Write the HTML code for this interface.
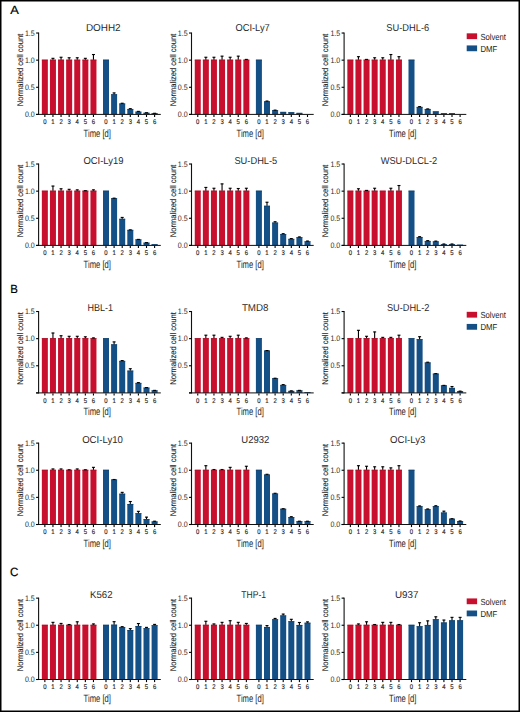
<!DOCTYPE html>
<html><head><meta charset="utf-8"><style>
html,body{margin:0;padding:0;background:#fff;}
svg{display:block;font-family:"Liberation Sans", sans-serif;text-rendering:geometricPrecision;}
</style></head><body>
<svg width="520" height="712" viewBox="0 0 520 712">
<rect x="0" y="0" width="520" height="712" fill="#fff"/>
<rect x="41.85" y="59.7" width="6" height="54.7" fill="#c8102e"/>
<rect x="41.85" y="59.7" width="6" height="0.7" fill="#a60d25"/>
<rect x="49.95" y="59.7" width="6" height="54.7" fill="#c8102e"/>
<rect x="49.95" y="59.7" width="6" height="0.7" fill="#a60d25"/>
<rect x="52.4" y="58.07" width="1.1" height="1.63" fill="#000"/>
<rect x="51.45" y="57.77" width="3" height="1.1" fill="#000"/>
<rect x="58.05" y="59.7" width="6" height="54.7" fill="#c8102e"/>
<rect x="58.05" y="59.7" width="6" height="0.7" fill="#a60d25"/>
<rect x="60.5" y="56.99" width="1.1" height="2.71" fill="#000"/>
<rect x="59.55" y="56.69" width="3" height="1.1" fill="#000"/>
<rect x="66.15" y="59.7" width="6" height="54.7" fill="#c8102e"/>
<rect x="66.15" y="59.7" width="6" height="0.7" fill="#a60d25"/>
<rect x="68.6" y="57.53" width="1.1" height="2.17" fill="#000"/>
<rect x="67.65" y="57.23" width="3" height="1.1" fill="#000"/>
<rect x="74.25" y="59.7" width="6" height="54.7" fill="#c8102e"/>
<rect x="74.25" y="59.7" width="6" height="0.7" fill="#a60d25"/>
<rect x="76.7" y="57.53" width="1.1" height="2.17" fill="#000"/>
<rect x="75.75" y="57.23" width="3" height="1.1" fill="#000"/>
<rect x="82.35" y="59.7" width="6" height="54.7" fill="#c8102e"/>
<rect x="82.35" y="59.7" width="6" height="0.7" fill="#a60d25"/>
<rect x="84.8" y="58.07" width="1.1" height="1.63" fill="#000"/>
<rect x="83.85" y="57.77" width="3" height="1.1" fill="#000"/>
<rect x="90.45" y="59.7" width="6" height="54.7" fill="#c8102e"/>
<rect x="90.45" y="59.7" width="6" height="0.7" fill="#a60d25"/>
<rect x="92.9" y="54.28" width="1.1" height="5.43" fill="#000"/>
<rect x="91.95" y="53.98" width="3" height="1.1" fill="#000"/>
<rect x="103" y="59.7" width="6" height="54.7" fill="#144f85"/>
<rect x="103" y="59.7" width="6" height="0.7" fill="#0f3f69"/>
<rect x="111.1" y="94.31" width="6" height="20.09" fill="#144f85"/>
<rect x="111.1" y="94.31" width="6" height="0.7" fill="#0f3f69"/>
<rect x="113.55" y="92.68" width="1.1" height="1.63" fill="#000"/>
<rect x="112.6" y="92.38" width="3" height="1.1" fill="#000"/>
<rect x="119.2" y="103.53" width="6" height="10.87" fill="#144f85"/>
<rect x="119.2" y="103.53" width="6" height="0.7" fill="#0f3f69"/>
<rect x="121.65" y="102.99" width="1.1" height="0.54" fill="#000"/>
<rect x="120.7" y="102.69" width="3" height="1.1" fill="#000"/>
<rect x="127.3" y="108.96" width="6" height="5.44" fill="#144f85"/>
<rect x="127.3" y="108.96" width="6" height="0.7" fill="#0f3f69"/>
<rect x="129.75" y="108.42" width="1.1" height="0.54" fill="#000"/>
<rect x="128.8" y="108.12" width="3" height="1.1" fill="#000"/>
<rect x="135.4" y="111.67" width="6" height="2.73" fill="#144f85"/>
<rect x="135.4" y="111.67" width="6" height="0.7" fill="#0f3f69"/>
<rect x="137.85" y="111.13" width="1.1" height="0.54" fill="#000"/>
<rect x="136.9" y="110.83" width="3" height="1.1" fill="#000"/>
<rect x="143.5" y="112.76" width="6" height="1.64" fill="#144f85"/>
<rect x="143.5" y="112.76" width="6" height="0.7" fill="#0f3f69"/>
<rect x="145.95" y="112.49" width="1.1" height="0.27" fill="#000"/>
<rect x="145" y="112.19" width="3" height="1.1" fill="#000"/>
<rect x="151.6" y="113.3" width="6" height="1.1" fill="#144f85"/>
<rect x="151.6" y="113.3" width="6" height="0.7" fill="#0f3f69"/>
<rect x="154.05" y="113.03" width="1.1" height="0.27" fill="#000"/>
<rect x="153.1" y="112.73" width="3" height="1.1" fill="#000"/>
<rect x="38.05" y="32.53" width="1.1" height="82.38" fill="#111"/>
<rect x="36.1" y="113.9" width="124.7" height="1.0" fill="#111"/>
<rect x="36.1" y="113.85" width="2.5" height="1.1" fill="#000"/>
<text x="34.7" y="117.1" font-size="7.9" text-anchor="end" fill="#2a2a2a" font-weight="normal" textLength="9.8" lengthAdjust="spacingAndGlyphs">0.0</text>
<rect x="36.1" y="86.73" width="2.5" height="1.1" fill="#000"/>
<text x="34.7" y="89.98" font-size="7.9" text-anchor="end" fill="#2a2a2a" font-weight="normal" textLength="9.8" lengthAdjust="spacingAndGlyphs">0.5</text>
<rect x="36.1" y="59.6" width="2.5" height="1.1" fill="#000"/>
<text x="34.7" y="62.85" font-size="7.9" text-anchor="end" fill="#2a2a2a" font-weight="normal" textLength="9.8" lengthAdjust="spacingAndGlyphs">1.0</text>
<rect x="36.1" y="32.48" width="2.5" height="1.1" fill="#000"/>
<text x="34.7" y="35.73" font-size="7.9" text-anchor="end" fill="#2a2a2a" font-weight="normal" textLength="9.8" lengthAdjust="spacingAndGlyphs">1.5</text>
<rect x="44.3" y="114.9" width="1.1" height="2.1" fill="#000"/>
<text x="44.85" y="124" font-size="6.8" text-anchor="middle" fill="#222" font-weight="normal" textLength="3.3" lengthAdjust="spacingAndGlyphs" stroke="#222" stroke-width="0.15">0</text>
<rect x="52.4" y="114.9" width="1.1" height="2.1" fill="#000"/>
<text x="52.95" y="124" font-size="6.8" text-anchor="middle" fill="#222" font-weight="normal" textLength="3.3" lengthAdjust="spacingAndGlyphs" stroke="#222" stroke-width="0.15">1</text>
<rect x="60.5" y="114.9" width="1.1" height="2.1" fill="#000"/>
<text x="61.05" y="124" font-size="6.8" text-anchor="middle" fill="#222" font-weight="normal" textLength="3.3" lengthAdjust="spacingAndGlyphs" stroke="#222" stroke-width="0.15">2</text>
<rect x="68.6" y="114.9" width="1.1" height="2.1" fill="#000"/>
<text x="69.15" y="124" font-size="6.8" text-anchor="middle" fill="#222" font-weight="normal" textLength="3.3" lengthAdjust="spacingAndGlyphs" stroke="#222" stroke-width="0.15">3</text>
<rect x="76.7" y="114.9" width="1.1" height="2.1" fill="#000"/>
<text x="77.25" y="124" font-size="6.8" text-anchor="middle" fill="#222" font-weight="normal" textLength="3.3" lengthAdjust="spacingAndGlyphs" stroke="#222" stroke-width="0.15">4</text>
<rect x="84.8" y="114.9" width="1.1" height="2.1" fill="#000"/>
<text x="85.35" y="124" font-size="6.8" text-anchor="middle" fill="#222" font-weight="normal" textLength="3.3" lengthAdjust="spacingAndGlyphs" stroke="#222" stroke-width="0.15">5</text>
<rect x="92.9" y="114.9" width="1.1" height="2.1" fill="#000"/>
<text x="93.45" y="124" font-size="6.8" text-anchor="middle" fill="#222" font-weight="normal" textLength="3.3" lengthAdjust="spacingAndGlyphs" stroke="#222" stroke-width="0.15">6</text>
<rect x="105.45" y="114.9" width="1.1" height="2.1" fill="#000"/>
<text x="106" y="124" font-size="6.8" text-anchor="middle" fill="#222" font-weight="normal" textLength="3.3" lengthAdjust="spacingAndGlyphs" stroke="#222" stroke-width="0.15">0</text>
<rect x="113.55" y="114.9" width="1.1" height="2.1" fill="#000"/>
<text x="114.1" y="124" font-size="6.8" text-anchor="middle" fill="#222" font-weight="normal" textLength="3.3" lengthAdjust="spacingAndGlyphs" stroke="#222" stroke-width="0.15">1</text>
<rect x="121.65" y="114.9" width="1.1" height="2.1" fill="#000"/>
<text x="122.2" y="124" font-size="6.8" text-anchor="middle" fill="#222" font-weight="normal" textLength="3.3" lengthAdjust="spacingAndGlyphs" stroke="#222" stroke-width="0.15">2</text>
<rect x="129.75" y="114.9" width="1.1" height="2.1" fill="#000"/>
<text x="130.3" y="124" font-size="6.8" text-anchor="middle" fill="#222" font-weight="normal" textLength="3.3" lengthAdjust="spacingAndGlyphs" stroke="#222" stroke-width="0.15">3</text>
<rect x="137.85" y="114.9" width="1.1" height="2.1" fill="#000"/>
<text x="138.4" y="124" font-size="6.8" text-anchor="middle" fill="#222" font-weight="normal" textLength="3.3" lengthAdjust="spacingAndGlyphs" stroke="#222" stroke-width="0.15">4</text>
<rect x="145.95" y="114.9" width="1.1" height="2.1" fill="#000"/>
<text x="146.5" y="124" font-size="6.8" text-anchor="middle" fill="#222" font-weight="normal" textLength="3.3" lengthAdjust="spacingAndGlyphs" stroke="#222" stroke-width="0.15">5</text>
<rect x="154.05" y="114.9" width="1.1" height="2.1" fill="#000"/>
<text x="154.6" y="124" font-size="6.8" text-anchor="middle" fill="#222" font-weight="normal" textLength="3.3" lengthAdjust="spacingAndGlyphs" stroke="#222" stroke-width="0.15">6</text>
<text x="83.6" y="136.8" font-size="10.5" text-anchor="start" fill="#222" font-weight="normal" textLength="27.3" lengthAdjust="spacingAndGlyphs">Time [d]</text>
<text transform="translate(22.9 106.2) rotate(-90)" font-size="8.3" fill="#222" stroke="#222" stroke-width="0.12" textLength="72.5" lengthAdjust="spacingAndGlyphs">Normalized cell count</text>
<text x="85.9" y="31" font-size="10" text-anchor="start" fill="#2a2a2a" font-weight="normal" textLength="34.75" lengthAdjust="spacingAndGlyphs">DOHH2</text>
<rect x="194.75" y="59.7" width="6" height="54.7" fill="#c8102e"/>
<rect x="194.75" y="59.7" width="6" height="0.7" fill="#a60d25"/>
<rect x="202.85" y="59.7" width="6" height="54.7" fill="#c8102e"/>
<rect x="202.85" y="59.7" width="6" height="0.7" fill="#a60d25"/>
<rect x="205.3" y="56.99" width="1.1" height="2.71" fill="#000"/>
<rect x="204.35" y="56.69" width="3" height="1.1" fill="#000"/>
<rect x="210.95" y="59.7" width="6" height="54.7" fill="#c8102e"/>
<rect x="210.95" y="59.7" width="6" height="0.7" fill="#a60d25"/>
<rect x="213.4" y="56.99" width="1.1" height="2.71" fill="#000"/>
<rect x="212.45" y="56.69" width="3" height="1.1" fill="#000"/>
<rect x="219.05" y="59.7" width="6" height="54.7" fill="#c8102e"/>
<rect x="219.05" y="59.7" width="6" height="0.7" fill="#a60d25"/>
<rect x="221.5" y="55.9" width="1.1" height="3.8" fill="#000"/>
<rect x="220.55" y="55.6" width="3" height="1.1" fill="#000"/>
<rect x="227.15" y="59.7" width="6" height="54.7" fill="#c8102e"/>
<rect x="227.15" y="59.7" width="6" height="0.7" fill="#a60d25"/>
<rect x="229.6" y="56.99" width="1.1" height="2.71" fill="#000"/>
<rect x="228.65" y="56.69" width="3" height="1.1" fill="#000"/>
<rect x="235.25" y="59.7" width="6" height="54.7" fill="#c8102e"/>
<rect x="235.25" y="59.7" width="6" height="0.7" fill="#a60d25"/>
<rect x="237.7" y="55.9" width="1.1" height="3.8" fill="#000"/>
<rect x="236.75" y="55.6" width="3" height="1.1" fill="#000"/>
<rect x="243.35" y="59.7" width="6" height="54.7" fill="#c8102e"/>
<rect x="243.35" y="59.7" width="6" height="0.7" fill="#a60d25"/>
<rect x="245.8" y="59.16" width="1.1" height="0.54" fill="#000"/>
<rect x="244.85" y="58.86" width="3" height="1.1" fill="#000"/>
<rect x="255.9" y="59.7" width="6" height="54.7" fill="#144f85"/>
<rect x="255.9" y="59.7" width="6" height="0.7" fill="#0f3f69"/>
<rect x="264" y="101.36" width="6" height="13.04" fill="#144f85"/>
<rect x="264" y="101.36" width="6" height="0.7" fill="#0f3f69"/>
<rect x="266.45" y="100.82" width="1.1" height="0.54" fill="#000"/>
<rect x="265.5" y="100.52" width="3" height="1.1" fill="#000"/>
<rect x="272.1" y="110.15" width="6" height="4.25" fill="#144f85"/>
<rect x="272.1" y="110.15" width="6" height="0.7" fill="#0f3f69"/>
<rect x="274.55" y="109.88" width="1.1" height="0.27" fill="#000"/>
<rect x="273.6" y="109.58" width="3" height="1.1" fill="#000"/>
<rect x="280.2" y="111.89" width="6" height="2.51" fill="#144f85"/>
<rect x="280.2" y="111.89" width="6" height="0.7" fill="#0f3f69"/>
<rect x="288.3" y="112.21" width="6" height="2.19" fill="#144f85"/>
<rect x="288.3" y="112.21" width="6" height="0.7" fill="#0f3f69"/>
<rect x="296.4" y="112.87" width="6" height="1.53" fill="#144f85"/>
<rect x="296.4" y="112.87" width="6" height="0.7" fill="#0f3f69"/>
<rect x="190.95" y="32.53" width="1.1" height="82.38" fill="#111"/>
<rect x="189" y="113.9" width="124.7" height="1.0" fill="#111"/>
<rect x="189" y="113.85" width="2.5" height="1.1" fill="#000"/>
<text x="187.6" y="117.1" font-size="7.9" text-anchor="end" fill="#2a2a2a" font-weight="normal" textLength="9.8" lengthAdjust="spacingAndGlyphs">0.0</text>
<rect x="189" y="86.73" width="2.5" height="1.1" fill="#000"/>
<text x="187.6" y="89.98" font-size="7.9" text-anchor="end" fill="#2a2a2a" font-weight="normal" textLength="9.8" lengthAdjust="spacingAndGlyphs">0.5</text>
<rect x="189" y="59.6" width="2.5" height="1.1" fill="#000"/>
<text x="187.6" y="62.85" font-size="7.9" text-anchor="end" fill="#2a2a2a" font-weight="normal" textLength="9.8" lengthAdjust="spacingAndGlyphs">1.0</text>
<rect x="189" y="32.48" width="2.5" height="1.1" fill="#000"/>
<text x="187.6" y="35.73" font-size="7.9" text-anchor="end" fill="#2a2a2a" font-weight="normal" textLength="9.8" lengthAdjust="spacingAndGlyphs">1.5</text>
<rect x="197.2" y="114.9" width="1.1" height="2.1" fill="#000"/>
<text x="197.75" y="124" font-size="6.8" text-anchor="middle" fill="#222" font-weight="normal" textLength="3.3" lengthAdjust="spacingAndGlyphs" stroke="#222" stroke-width="0.15">0</text>
<rect x="205.3" y="114.9" width="1.1" height="2.1" fill="#000"/>
<text x="205.85" y="124" font-size="6.8" text-anchor="middle" fill="#222" font-weight="normal" textLength="3.3" lengthAdjust="spacingAndGlyphs" stroke="#222" stroke-width="0.15">1</text>
<rect x="213.4" y="114.9" width="1.1" height="2.1" fill="#000"/>
<text x="213.95" y="124" font-size="6.8" text-anchor="middle" fill="#222" font-weight="normal" textLength="3.3" lengthAdjust="spacingAndGlyphs" stroke="#222" stroke-width="0.15">2</text>
<rect x="221.5" y="114.9" width="1.1" height="2.1" fill="#000"/>
<text x="222.05" y="124" font-size="6.8" text-anchor="middle" fill="#222" font-weight="normal" textLength="3.3" lengthAdjust="spacingAndGlyphs" stroke="#222" stroke-width="0.15">3</text>
<rect x="229.6" y="114.9" width="1.1" height="2.1" fill="#000"/>
<text x="230.15" y="124" font-size="6.8" text-anchor="middle" fill="#222" font-weight="normal" textLength="3.3" lengthAdjust="spacingAndGlyphs" stroke="#222" stroke-width="0.15">4</text>
<rect x="237.7" y="114.9" width="1.1" height="2.1" fill="#000"/>
<text x="238.25" y="124" font-size="6.8" text-anchor="middle" fill="#222" font-weight="normal" textLength="3.3" lengthAdjust="spacingAndGlyphs" stroke="#222" stroke-width="0.15">5</text>
<rect x="245.8" y="114.9" width="1.1" height="2.1" fill="#000"/>
<text x="246.35" y="124" font-size="6.8" text-anchor="middle" fill="#222" font-weight="normal" textLength="3.3" lengthAdjust="spacingAndGlyphs" stroke="#222" stroke-width="0.15">6</text>
<rect x="258.35" y="114.9" width="1.1" height="2.1" fill="#000"/>
<text x="258.9" y="124" font-size="6.8" text-anchor="middle" fill="#222" font-weight="normal" textLength="3.3" lengthAdjust="spacingAndGlyphs" stroke="#222" stroke-width="0.15">0</text>
<rect x="266.45" y="114.9" width="1.1" height="2.1" fill="#000"/>
<text x="267" y="124" font-size="6.8" text-anchor="middle" fill="#222" font-weight="normal" textLength="3.3" lengthAdjust="spacingAndGlyphs" stroke="#222" stroke-width="0.15">1</text>
<rect x="274.55" y="114.9" width="1.1" height="2.1" fill="#000"/>
<text x="275.1" y="124" font-size="6.8" text-anchor="middle" fill="#222" font-weight="normal" textLength="3.3" lengthAdjust="spacingAndGlyphs" stroke="#222" stroke-width="0.15">2</text>
<rect x="282.65" y="114.9" width="1.1" height="2.1" fill="#000"/>
<text x="283.2" y="124" font-size="6.8" text-anchor="middle" fill="#222" font-weight="normal" textLength="3.3" lengthAdjust="spacingAndGlyphs" stroke="#222" stroke-width="0.15">3</text>
<rect x="290.75" y="114.9" width="1.1" height="2.1" fill="#000"/>
<text x="291.3" y="124" font-size="6.8" text-anchor="middle" fill="#222" font-weight="normal" textLength="3.3" lengthAdjust="spacingAndGlyphs" stroke="#222" stroke-width="0.15">4</text>
<rect x="298.85" y="114.9" width="1.1" height="2.1" fill="#000"/>
<text x="299.4" y="124" font-size="6.8" text-anchor="middle" fill="#222" font-weight="normal" textLength="3.3" lengthAdjust="spacingAndGlyphs" stroke="#222" stroke-width="0.15">5</text>
<rect x="306.95" y="114.9" width="1.1" height="2.1" fill="#000"/>
<text x="307.5" y="124" font-size="6.8" text-anchor="middle" fill="#222" font-weight="normal" textLength="3.3" lengthAdjust="spacingAndGlyphs" stroke="#222" stroke-width="0.15">6</text>
<text x="236.5" y="136.8" font-size="10.5" text-anchor="start" fill="#222" font-weight="normal" textLength="27.3" lengthAdjust="spacingAndGlyphs">Time [d]</text>
<text transform="translate(175.8 106.2) rotate(-90)" font-size="8.3" fill="#222" stroke="#222" stroke-width="0.12" textLength="72.5" lengthAdjust="spacingAndGlyphs">Normalized cell count</text>
<text x="235.4" y="31" font-size="10" text-anchor="start" fill="#2a2a2a" font-weight="normal" textLength="34.4" lengthAdjust="spacingAndGlyphs">OCI-Ly7</text>
<rect x="347.35" y="59.7" width="6" height="54.7" fill="#c8102e"/>
<rect x="347.35" y="59.7" width="6" height="0.7" fill="#a60d25"/>
<rect x="355.45" y="59.7" width="6" height="54.7" fill="#c8102e"/>
<rect x="355.45" y="59.7" width="6" height="0.7" fill="#a60d25"/>
<rect x="357.9" y="56.45" width="1.1" height="3.25" fill="#000"/>
<rect x="356.95" y="56.15" width="3" height="1.1" fill="#000"/>
<rect x="363.55" y="59.7" width="6" height="54.7" fill="#c8102e"/>
<rect x="363.55" y="59.7" width="6" height="0.7" fill="#a60d25"/>
<rect x="366" y="59.16" width="1.1" height="0.54" fill="#000"/>
<rect x="365.05" y="58.86" width="3" height="1.1" fill="#000"/>
<rect x="371.65" y="59.7" width="6" height="54.7" fill="#c8102e"/>
<rect x="371.65" y="59.7" width="6" height="0.7" fill="#a60d25"/>
<rect x="374.1" y="57.53" width="1.1" height="2.17" fill="#000"/>
<rect x="373.15" y="57.23" width="3" height="1.1" fill="#000"/>
<rect x="379.75" y="59.7" width="6" height="54.7" fill="#c8102e"/>
<rect x="379.75" y="59.7" width="6" height="0.7" fill="#a60d25"/>
<rect x="382.2" y="57.53" width="1.1" height="2.17" fill="#000"/>
<rect x="381.25" y="57.23" width="3" height="1.1" fill="#000"/>
<rect x="387.85" y="59.7" width="6" height="54.7" fill="#c8102e"/>
<rect x="387.85" y="59.7" width="6" height="0.7" fill="#a60d25"/>
<rect x="390.3" y="54.28" width="1.1" height="5.43" fill="#000"/>
<rect x="389.35" y="53.98" width="3" height="1.1" fill="#000"/>
<rect x="395.95" y="59.7" width="6" height="54.7" fill="#c8102e"/>
<rect x="395.95" y="59.7" width="6" height="0.7" fill="#a60d25"/>
<rect x="398.4" y="56.45" width="1.1" height="3.25" fill="#000"/>
<rect x="397.45" y="56.15" width="3" height="1.1" fill="#000"/>
<rect x="408.5" y="59.7" width="6" height="54.7" fill="#144f85"/>
<rect x="408.5" y="59.7" width="6" height="0.7" fill="#0f3f69"/>
<rect x="416.6" y="106.9" width="6" height="7.5" fill="#144f85"/>
<rect x="416.6" y="106.9" width="6" height="0.7" fill="#0f3f69"/>
<rect x="419.05" y="106.36" width="1.1" height="0.54" fill="#000"/>
<rect x="418.1" y="106.06" width="3" height="1.1" fill="#000"/>
<rect x="424.7" y="108.96" width="6" height="5.44" fill="#144f85"/>
<rect x="424.7" y="108.96" width="6" height="0.7" fill="#0f3f69"/>
<rect x="427.15" y="108.69" width="1.1" height="0.27" fill="#000"/>
<rect x="426.2" y="108.39" width="3" height="1.1" fill="#000"/>
<rect x="432.8" y="111.4" width="6" height="3" fill="#144f85"/>
<rect x="432.8" y="111.4" width="6" height="0.7" fill="#0f3f69"/>
<rect x="440.9" y="113.3" width="6" height="1.1" fill="#144f85"/>
<rect x="440.9" y="113.3" width="6" height="0.7" fill="#0f3f69"/>
<rect x="449" y="113.3" width="6" height="1.1" fill="#144f85"/>
<rect x="449" y="113.3" width="6" height="0.7" fill="#0f3f69"/>
<rect x="343.55" y="32.53" width="1.1" height="82.38" fill="#111"/>
<rect x="341.6" y="113.9" width="124.7" height="1.0" fill="#111"/>
<rect x="341.6" y="113.85" width="2.5" height="1.1" fill="#000"/>
<text x="340.2" y="117.1" font-size="7.9" text-anchor="end" fill="#2a2a2a" font-weight="normal" textLength="9.8" lengthAdjust="spacingAndGlyphs">0.0</text>
<rect x="341.6" y="86.73" width="2.5" height="1.1" fill="#000"/>
<text x="340.2" y="89.98" font-size="7.9" text-anchor="end" fill="#2a2a2a" font-weight="normal" textLength="9.8" lengthAdjust="spacingAndGlyphs">0.5</text>
<rect x="341.6" y="59.6" width="2.5" height="1.1" fill="#000"/>
<text x="340.2" y="62.85" font-size="7.9" text-anchor="end" fill="#2a2a2a" font-weight="normal" textLength="9.8" lengthAdjust="spacingAndGlyphs">1.0</text>
<rect x="341.6" y="32.48" width="2.5" height="1.1" fill="#000"/>
<text x="340.2" y="35.73" font-size="7.9" text-anchor="end" fill="#2a2a2a" font-weight="normal" textLength="9.8" lengthAdjust="spacingAndGlyphs">1.5</text>
<rect x="349.8" y="114.9" width="1.1" height="2.1" fill="#000"/>
<text x="350.35" y="124" font-size="6.8" text-anchor="middle" fill="#222" font-weight="normal" textLength="3.3" lengthAdjust="spacingAndGlyphs" stroke="#222" stroke-width="0.15">0</text>
<rect x="357.9" y="114.9" width="1.1" height="2.1" fill="#000"/>
<text x="358.45" y="124" font-size="6.8" text-anchor="middle" fill="#222" font-weight="normal" textLength="3.3" lengthAdjust="spacingAndGlyphs" stroke="#222" stroke-width="0.15">1</text>
<rect x="366" y="114.9" width="1.1" height="2.1" fill="#000"/>
<text x="366.55" y="124" font-size="6.8" text-anchor="middle" fill="#222" font-weight="normal" textLength="3.3" lengthAdjust="spacingAndGlyphs" stroke="#222" stroke-width="0.15">2</text>
<rect x="374.1" y="114.9" width="1.1" height="2.1" fill="#000"/>
<text x="374.65" y="124" font-size="6.8" text-anchor="middle" fill="#222" font-weight="normal" textLength="3.3" lengthAdjust="spacingAndGlyphs" stroke="#222" stroke-width="0.15">3</text>
<rect x="382.2" y="114.9" width="1.1" height="2.1" fill="#000"/>
<text x="382.75" y="124" font-size="6.8" text-anchor="middle" fill="#222" font-weight="normal" textLength="3.3" lengthAdjust="spacingAndGlyphs" stroke="#222" stroke-width="0.15">4</text>
<rect x="390.3" y="114.9" width="1.1" height="2.1" fill="#000"/>
<text x="390.85" y="124" font-size="6.8" text-anchor="middle" fill="#222" font-weight="normal" textLength="3.3" lengthAdjust="spacingAndGlyphs" stroke="#222" stroke-width="0.15">5</text>
<rect x="398.4" y="114.9" width="1.1" height="2.1" fill="#000"/>
<text x="398.95" y="124" font-size="6.8" text-anchor="middle" fill="#222" font-weight="normal" textLength="3.3" lengthAdjust="spacingAndGlyphs" stroke="#222" stroke-width="0.15">6</text>
<rect x="410.95" y="114.9" width="1.1" height="2.1" fill="#000"/>
<text x="411.5" y="124" font-size="6.8" text-anchor="middle" fill="#222" font-weight="normal" textLength="3.3" lengthAdjust="spacingAndGlyphs" stroke="#222" stroke-width="0.15">0</text>
<rect x="419.05" y="114.9" width="1.1" height="2.1" fill="#000"/>
<text x="419.6" y="124" font-size="6.8" text-anchor="middle" fill="#222" font-weight="normal" textLength="3.3" lengthAdjust="spacingAndGlyphs" stroke="#222" stroke-width="0.15">1</text>
<rect x="427.15" y="114.9" width="1.1" height="2.1" fill="#000"/>
<text x="427.7" y="124" font-size="6.8" text-anchor="middle" fill="#222" font-weight="normal" textLength="3.3" lengthAdjust="spacingAndGlyphs" stroke="#222" stroke-width="0.15">2</text>
<rect x="435.25" y="114.9" width="1.1" height="2.1" fill="#000"/>
<text x="435.8" y="124" font-size="6.8" text-anchor="middle" fill="#222" font-weight="normal" textLength="3.3" lengthAdjust="spacingAndGlyphs" stroke="#222" stroke-width="0.15">3</text>
<rect x="443.35" y="114.9" width="1.1" height="2.1" fill="#000"/>
<text x="443.9" y="124" font-size="6.8" text-anchor="middle" fill="#222" font-weight="normal" textLength="3.3" lengthAdjust="spacingAndGlyphs" stroke="#222" stroke-width="0.15">4</text>
<rect x="451.45" y="114.9" width="1.1" height="2.1" fill="#000"/>
<text x="452" y="124" font-size="6.8" text-anchor="middle" fill="#222" font-weight="normal" textLength="3.3" lengthAdjust="spacingAndGlyphs" stroke="#222" stroke-width="0.15">5</text>
<rect x="459.55" y="114.9" width="1.1" height="2.1" fill="#000"/>
<text x="460.1" y="124" font-size="6.8" text-anchor="middle" fill="#222" font-weight="normal" textLength="3.3" lengthAdjust="spacingAndGlyphs" stroke="#222" stroke-width="0.15">6</text>
<text x="389.1" y="136.8" font-size="10.5" text-anchor="start" fill="#222" font-weight="normal" textLength="27.3" lengthAdjust="spacingAndGlyphs">Time [d]</text>
<text transform="translate(328.4 106.2) rotate(-90)" font-size="8.3" fill="#222" stroke="#222" stroke-width="0.12" textLength="72.5" lengthAdjust="spacingAndGlyphs">Normalized cell count</text>
<text x="386.3" y="31" font-size="10" text-anchor="start" fill="#2a2a2a" font-weight="normal" textLength="42.9" lengthAdjust="spacingAndGlyphs">SU-DHL-6</text>
<rect x="41.85" y="190.7" width="6" height="54.7" fill="#c8102e"/>
<rect x="41.85" y="190.7" width="6" height="0.7" fill="#a60d25"/>
<rect x="49.95" y="190.7" width="6" height="54.7" fill="#c8102e"/>
<rect x="49.95" y="190.7" width="6" height="0.7" fill="#a60d25"/>
<rect x="52.4" y="185.82" width="1.1" height="4.88" fill="#000"/>
<rect x="51.45" y="185.52" width="3" height="1.1" fill="#000"/>
<rect x="58.05" y="190.7" width="6" height="54.7" fill="#c8102e"/>
<rect x="58.05" y="190.7" width="6" height="0.7" fill="#a60d25"/>
<rect x="60.5" y="188.53" width="1.1" height="2.17" fill="#000"/>
<rect x="59.55" y="188.23" width="3" height="1.1" fill="#000"/>
<rect x="66.15" y="190.7" width="6" height="54.7" fill="#c8102e"/>
<rect x="66.15" y="190.7" width="6" height="0.7" fill="#a60d25"/>
<rect x="68.6" y="189.07" width="1.1" height="1.63" fill="#000"/>
<rect x="67.65" y="188.77" width="3" height="1.1" fill="#000"/>
<rect x="74.25" y="190.7" width="6" height="54.7" fill="#c8102e"/>
<rect x="74.25" y="190.7" width="6" height="0.7" fill="#a60d25"/>
<rect x="76.7" y="189.61" width="1.1" height="1.08" fill="#000"/>
<rect x="75.75" y="189.31" width="3" height="1.1" fill="#000"/>
<rect x="82.35" y="190.7" width="6" height="54.7" fill="#c8102e"/>
<rect x="82.35" y="190.7" width="6" height="0.7" fill="#a60d25"/>
<rect x="84.8" y="190.43" width="1.1" height="0.27" fill="#000"/>
<rect x="83.85" y="190.13" width="3" height="1.1" fill="#000"/>
<rect x="90.45" y="190.7" width="6" height="54.7" fill="#c8102e"/>
<rect x="90.45" y="190.7" width="6" height="0.7" fill="#a60d25"/>
<rect x="92.9" y="189.61" width="1.1" height="1.08" fill="#000"/>
<rect x="91.95" y="189.31" width="3" height="1.1" fill="#000"/>
<rect x="103" y="190.7" width="6" height="54.7" fill="#144f85"/>
<rect x="103" y="190.7" width="6" height="0.7" fill="#0f3f69"/>
<rect x="111.1" y="198.19" width="6" height="47.21" fill="#144f85"/>
<rect x="111.1" y="198.19" width="6" height="0.7" fill="#0f3f69"/>
<rect x="113.55" y="197.92" width="1.1" height="0.27" fill="#000"/>
<rect x="112.6" y="197.62" width="3" height="1.1" fill="#000"/>
<rect x="119.2" y="218.8" width="6" height="26.6" fill="#144f85"/>
<rect x="119.2" y="218.8" width="6" height="0.7" fill="#0f3f69"/>
<rect x="121.65" y="217.17" width="1.1" height="1.63" fill="#000"/>
<rect x="120.7" y="216.87" width="3" height="1.1" fill="#000"/>
<rect x="127.3" y="229.87" width="6" height="15.53" fill="#144f85"/>
<rect x="127.3" y="229.87" width="6" height="0.7" fill="#0f3f69"/>
<rect x="129.75" y="229.6" width="1.1" height="0.27" fill="#000"/>
<rect x="128.8" y="229.3" width="3" height="1.1" fill="#000"/>
<rect x="135.4" y="239.42" width="6" height="5.98" fill="#144f85"/>
<rect x="135.4" y="239.42" width="6" height="0.7" fill="#0f3f69"/>
<rect x="137.85" y="239.15" width="1.1" height="0.27" fill="#000"/>
<rect x="136.9" y="238.85" width="3" height="1.1" fill="#000"/>
<rect x="143.5" y="242.67" width="6" height="2.73" fill="#144f85"/>
<rect x="143.5" y="242.67" width="6" height="0.7" fill="#0f3f69"/>
<rect x="145.95" y="242.4" width="1.1" height="0.27" fill="#000"/>
<rect x="145" y="242.1" width="3" height="1.1" fill="#000"/>
<rect x="151.6" y="244.3" width="6" height="1.1" fill="#144f85"/>
<rect x="151.6" y="244.3" width="6" height="0.7" fill="#0f3f69"/>
<rect x="38.05" y="163.53" width="1.1" height="82.38" fill="#111"/>
<rect x="36.1" y="244.9" width="124.7" height="1.0" fill="#111"/>
<rect x="36.1" y="244.85" width="2.5" height="1.1" fill="#000"/>
<text x="34.7" y="248.1" font-size="7.9" text-anchor="end" fill="#2a2a2a" font-weight="normal" textLength="9.8" lengthAdjust="spacingAndGlyphs">0.0</text>
<rect x="36.1" y="217.72" width="2.5" height="1.1" fill="#000"/>
<text x="34.7" y="220.97" font-size="7.9" text-anchor="end" fill="#2a2a2a" font-weight="normal" textLength="9.8" lengthAdjust="spacingAndGlyphs">0.5</text>
<rect x="36.1" y="190.6" width="2.5" height="1.1" fill="#000"/>
<text x="34.7" y="193.85" font-size="7.9" text-anchor="end" fill="#2a2a2a" font-weight="normal" textLength="9.8" lengthAdjust="spacingAndGlyphs">1.0</text>
<rect x="36.1" y="163.47" width="2.5" height="1.1" fill="#000"/>
<text x="34.7" y="166.72" font-size="7.9" text-anchor="end" fill="#2a2a2a" font-weight="normal" textLength="9.8" lengthAdjust="spacingAndGlyphs">1.5</text>
<rect x="44.3" y="245.9" width="1.1" height="2.1" fill="#000"/>
<text x="44.85" y="255" font-size="6.8" text-anchor="middle" fill="#222" font-weight="normal" textLength="3.3" lengthAdjust="spacingAndGlyphs" stroke="#222" stroke-width="0.15">0</text>
<rect x="52.4" y="245.9" width="1.1" height="2.1" fill="#000"/>
<text x="52.95" y="255" font-size="6.8" text-anchor="middle" fill="#222" font-weight="normal" textLength="3.3" lengthAdjust="spacingAndGlyphs" stroke="#222" stroke-width="0.15">1</text>
<rect x="60.5" y="245.9" width="1.1" height="2.1" fill="#000"/>
<text x="61.05" y="255" font-size="6.8" text-anchor="middle" fill="#222" font-weight="normal" textLength="3.3" lengthAdjust="spacingAndGlyphs" stroke="#222" stroke-width="0.15">2</text>
<rect x="68.6" y="245.9" width="1.1" height="2.1" fill="#000"/>
<text x="69.15" y="255" font-size="6.8" text-anchor="middle" fill="#222" font-weight="normal" textLength="3.3" lengthAdjust="spacingAndGlyphs" stroke="#222" stroke-width="0.15">3</text>
<rect x="76.7" y="245.9" width="1.1" height="2.1" fill="#000"/>
<text x="77.25" y="255" font-size="6.8" text-anchor="middle" fill="#222" font-weight="normal" textLength="3.3" lengthAdjust="spacingAndGlyphs" stroke="#222" stroke-width="0.15">4</text>
<rect x="84.8" y="245.9" width="1.1" height="2.1" fill="#000"/>
<text x="85.35" y="255" font-size="6.8" text-anchor="middle" fill="#222" font-weight="normal" textLength="3.3" lengthAdjust="spacingAndGlyphs" stroke="#222" stroke-width="0.15">5</text>
<rect x="92.9" y="245.9" width="1.1" height="2.1" fill="#000"/>
<text x="93.45" y="255" font-size="6.8" text-anchor="middle" fill="#222" font-weight="normal" textLength="3.3" lengthAdjust="spacingAndGlyphs" stroke="#222" stroke-width="0.15">6</text>
<rect x="105.45" y="245.9" width="1.1" height="2.1" fill="#000"/>
<text x="106" y="255" font-size="6.8" text-anchor="middle" fill="#222" font-weight="normal" textLength="3.3" lengthAdjust="spacingAndGlyphs" stroke="#222" stroke-width="0.15">0</text>
<rect x="113.55" y="245.9" width="1.1" height="2.1" fill="#000"/>
<text x="114.1" y="255" font-size="6.8" text-anchor="middle" fill="#222" font-weight="normal" textLength="3.3" lengthAdjust="spacingAndGlyphs" stroke="#222" stroke-width="0.15">1</text>
<rect x="121.65" y="245.9" width="1.1" height="2.1" fill="#000"/>
<text x="122.2" y="255" font-size="6.8" text-anchor="middle" fill="#222" font-weight="normal" textLength="3.3" lengthAdjust="spacingAndGlyphs" stroke="#222" stroke-width="0.15">2</text>
<rect x="129.75" y="245.9" width="1.1" height="2.1" fill="#000"/>
<text x="130.3" y="255" font-size="6.8" text-anchor="middle" fill="#222" font-weight="normal" textLength="3.3" lengthAdjust="spacingAndGlyphs" stroke="#222" stroke-width="0.15">3</text>
<rect x="137.85" y="245.9" width="1.1" height="2.1" fill="#000"/>
<text x="138.4" y="255" font-size="6.8" text-anchor="middle" fill="#222" font-weight="normal" textLength="3.3" lengthAdjust="spacingAndGlyphs" stroke="#222" stroke-width="0.15">4</text>
<rect x="145.95" y="245.9" width="1.1" height="2.1" fill="#000"/>
<text x="146.5" y="255" font-size="6.8" text-anchor="middle" fill="#222" font-weight="normal" textLength="3.3" lengthAdjust="spacingAndGlyphs" stroke="#222" stroke-width="0.15">5</text>
<rect x="154.05" y="245.9" width="1.1" height="2.1" fill="#000"/>
<text x="154.6" y="255" font-size="6.8" text-anchor="middle" fill="#222" font-weight="normal" textLength="3.3" lengthAdjust="spacingAndGlyphs" stroke="#222" stroke-width="0.15">6</text>
<text x="83.6" y="267.8" font-size="10.5" text-anchor="start" fill="#222" font-weight="normal" textLength="27.3" lengthAdjust="spacingAndGlyphs">Time [d]</text>
<text transform="translate(22.9 237.2) rotate(-90)" font-size="8.3" fill="#222" stroke="#222" stroke-width="0.12" textLength="72.5" lengthAdjust="spacingAndGlyphs">Normalized cell count</text>
<text x="83.4" y="163.8" font-size="10" text-anchor="start" fill="#2a2a2a" font-weight="normal" textLength="40.1" lengthAdjust="spacingAndGlyphs">OCI-Ly19</text>
<rect x="194.75" y="190.7" width="6" height="54.7" fill="#c8102e"/>
<rect x="194.75" y="190.7" width="6" height="0.7" fill="#a60d25"/>
<rect x="202.85" y="190.7" width="6" height="54.7" fill="#c8102e"/>
<rect x="202.85" y="190.7" width="6" height="0.7" fill="#a60d25"/>
<rect x="205.3" y="187.17" width="1.1" height="3.53" fill="#000"/>
<rect x="204.35" y="186.87" width="3" height="1.1" fill="#000"/>
<rect x="210.95" y="190.7" width="6" height="54.7" fill="#c8102e"/>
<rect x="210.95" y="190.7" width="6" height="0.7" fill="#a60d25"/>
<rect x="213.4" y="187.99" width="1.1" height="2.71" fill="#000"/>
<rect x="212.45" y="187.69" width="3" height="1.1" fill="#000"/>
<rect x="219.05" y="190.7" width="6" height="54.7" fill="#c8102e"/>
<rect x="219.05" y="190.7" width="6" height="0.7" fill="#a60d25"/>
<rect x="221.5" y="183.65" width="1.1" height="7.05" fill="#000"/>
<rect x="220.55" y="183.35" width="3" height="1.1" fill="#000"/>
<rect x="227.15" y="190.7" width="6" height="54.7" fill="#c8102e"/>
<rect x="227.15" y="190.7" width="6" height="0.7" fill="#a60d25"/>
<rect x="229.6" y="187.99" width="1.1" height="2.71" fill="#000"/>
<rect x="228.65" y="187.69" width="3" height="1.1" fill="#000"/>
<rect x="235.25" y="190.7" width="6" height="54.7" fill="#c8102e"/>
<rect x="235.25" y="190.7" width="6" height="0.7" fill="#a60d25"/>
<rect x="237.7" y="188.26" width="1.1" height="2.44" fill="#000"/>
<rect x="236.75" y="187.96" width="3" height="1.1" fill="#000"/>
<rect x="243.35" y="190.7" width="6" height="54.7" fill="#c8102e"/>
<rect x="243.35" y="190.7" width="6" height="0.7" fill="#a60d25"/>
<rect x="245.8" y="187.99" width="1.1" height="2.71" fill="#000"/>
<rect x="244.85" y="187.69" width="3" height="1.1" fill="#000"/>
<rect x="255.9" y="190.7" width="6" height="54.7" fill="#144f85"/>
<rect x="255.9" y="190.7" width="6" height="0.7" fill="#0f3f69"/>
<rect x="264" y="205.78" width="6" height="39.62" fill="#144f85"/>
<rect x="264" y="205.78" width="6" height="0.7" fill="#0f3f69"/>
<rect x="266.45" y="201.98" width="1.1" height="3.8" fill="#000"/>
<rect x="265.5" y="201.68" width="3" height="1.1" fill="#000"/>
<rect x="272.1" y="222.6" width="6" height="22.8" fill="#144f85"/>
<rect x="272.1" y="222.6" width="6" height="0.7" fill="#0f3f69"/>
<rect x="274.55" y="221.51" width="1.1" height="1.08" fill="#000"/>
<rect x="273.6" y="221.21" width="3" height="1.1" fill="#000"/>
<rect x="280.2" y="233.99" width="6" height="11.41" fill="#144f85"/>
<rect x="280.2" y="233.99" width="6" height="0.7" fill="#0f3f69"/>
<rect x="282.65" y="233.45" width="1.1" height="0.54" fill="#000"/>
<rect x="281.7" y="233.15" width="3" height="1.1" fill="#000"/>
<rect x="288.3" y="238.87" width="6" height="6.53" fill="#144f85"/>
<rect x="288.3" y="238.87" width="6" height="0.7" fill="#0f3f69"/>
<rect x="290.75" y="238.33" width="1.1" height="0.54" fill="#000"/>
<rect x="289.8" y="238.03" width="3" height="1.1" fill="#000"/>
<rect x="296.4" y="237.25" width="6" height="8.15" fill="#144f85"/>
<rect x="296.4" y="237.25" width="6" height="0.7" fill="#0f3f69"/>
<rect x="298.85" y="236.7" width="1.1" height="0.54" fill="#000"/>
<rect x="297.9" y="236.4" width="3" height="1.1" fill="#000"/>
<rect x="304.5" y="241.37" width="6" height="4.03" fill="#144f85"/>
<rect x="304.5" y="241.37" width="6" height="0.7" fill="#0f3f69"/>
<rect x="306.95" y="240.83" width="1.1" height="0.54" fill="#000"/>
<rect x="306" y="240.53" width="3" height="1.1" fill="#000"/>
<rect x="190.95" y="163.53" width="1.1" height="82.38" fill="#111"/>
<rect x="189" y="244.9" width="124.7" height="1.0" fill="#111"/>
<rect x="189" y="244.85" width="2.5" height="1.1" fill="#000"/>
<text x="187.6" y="248.1" font-size="7.9" text-anchor="end" fill="#2a2a2a" font-weight="normal" textLength="9.8" lengthAdjust="spacingAndGlyphs">0.0</text>
<rect x="189" y="217.72" width="2.5" height="1.1" fill="#000"/>
<text x="187.6" y="220.97" font-size="7.9" text-anchor="end" fill="#2a2a2a" font-weight="normal" textLength="9.8" lengthAdjust="spacingAndGlyphs">0.5</text>
<rect x="189" y="190.6" width="2.5" height="1.1" fill="#000"/>
<text x="187.6" y="193.85" font-size="7.9" text-anchor="end" fill="#2a2a2a" font-weight="normal" textLength="9.8" lengthAdjust="spacingAndGlyphs">1.0</text>
<rect x="189" y="163.47" width="2.5" height="1.1" fill="#000"/>
<text x="187.6" y="166.72" font-size="7.9" text-anchor="end" fill="#2a2a2a" font-weight="normal" textLength="9.8" lengthAdjust="spacingAndGlyphs">1.5</text>
<rect x="197.2" y="245.9" width="1.1" height="2.1" fill="#000"/>
<text x="197.75" y="255" font-size="6.8" text-anchor="middle" fill="#222" font-weight="normal" textLength="3.3" lengthAdjust="spacingAndGlyphs" stroke="#222" stroke-width="0.15">0</text>
<rect x="205.3" y="245.9" width="1.1" height="2.1" fill="#000"/>
<text x="205.85" y="255" font-size="6.8" text-anchor="middle" fill="#222" font-weight="normal" textLength="3.3" lengthAdjust="spacingAndGlyphs" stroke="#222" stroke-width="0.15">1</text>
<rect x="213.4" y="245.9" width="1.1" height="2.1" fill="#000"/>
<text x="213.95" y="255" font-size="6.8" text-anchor="middle" fill="#222" font-weight="normal" textLength="3.3" lengthAdjust="spacingAndGlyphs" stroke="#222" stroke-width="0.15">2</text>
<rect x="221.5" y="245.9" width="1.1" height="2.1" fill="#000"/>
<text x="222.05" y="255" font-size="6.8" text-anchor="middle" fill="#222" font-weight="normal" textLength="3.3" lengthAdjust="spacingAndGlyphs" stroke="#222" stroke-width="0.15">3</text>
<rect x="229.6" y="245.9" width="1.1" height="2.1" fill="#000"/>
<text x="230.15" y="255" font-size="6.8" text-anchor="middle" fill="#222" font-weight="normal" textLength="3.3" lengthAdjust="spacingAndGlyphs" stroke="#222" stroke-width="0.15">4</text>
<rect x="237.7" y="245.9" width="1.1" height="2.1" fill="#000"/>
<text x="238.25" y="255" font-size="6.8" text-anchor="middle" fill="#222" font-weight="normal" textLength="3.3" lengthAdjust="spacingAndGlyphs" stroke="#222" stroke-width="0.15">5</text>
<rect x="245.8" y="245.9" width="1.1" height="2.1" fill="#000"/>
<text x="246.35" y="255" font-size="6.8" text-anchor="middle" fill="#222" font-weight="normal" textLength="3.3" lengthAdjust="spacingAndGlyphs" stroke="#222" stroke-width="0.15">6</text>
<rect x="258.35" y="245.9" width="1.1" height="2.1" fill="#000"/>
<text x="258.9" y="255" font-size="6.8" text-anchor="middle" fill="#222" font-weight="normal" textLength="3.3" lengthAdjust="spacingAndGlyphs" stroke="#222" stroke-width="0.15">0</text>
<rect x="266.45" y="245.9" width="1.1" height="2.1" fill="#000"/>
<text x="267" y="255" font-size="6.8" text-anchor="middle" fill="#222" font-weight="normal" textLength="3.3" lengthAdjust="spacingAndGlyphs" stroke="#222" stroke-width="0.15">1</text>
<rect x="274.55" y="245.9" width="1.1" height="2.1" fill="#000"/>
<text x="275.1" y="255" font-size="6.8" text-anchor="middle" fill="#222" font-weight="normal" textLength="3.3" lengthAdjust="spacingAndGlyphs" stroke="#222" stroke-width="0.15">2</text>
<rect x="282.65" y="245.9" width="1.1" height="2.1" fill="#000"/>
<text x="283.2" y="255" font-size="6.8" text-anchor="middle" fill="#222" font-weight="normal" textLength="3.3" lengthAdjust="spacingAndGlyphs" stroke="#222" stroke-width="0.15">3</text>
<rect x="290.75" y="245.9" width="1.1" height="2.1" fill="#000"/>
<text x="291.3" y="255" font-size="6.8" text-anchor="middle" fill="#222" font-weight="normal" textLength="3.3" lengthAdjust="spacingAndGlyphs" stroke="#222" stroke-width="0.15">4</text>
<rect x="298.85" y="245.9" width="1.1" height="2.1" fill="#000"/>
<text x="299.4" y="255" font-size="6.8" text-anchor="middle" fill="#222" font-weight="normal" textLength="3.3" lengthAdjust="spacingAndGlyphs" stroke="#222" stroke-width="0.15">5</text>
<rect x="306.95" y="245.9" width="1.1" height="2.1" fill="#000"/>
<text x="307.5" y="255" font-size="6.8" text-anchor="middle" fill="#222" font-weight="normal" textLength="3.3" lengthAdjust="spacingAndGlyphs" stroke="#222" stroke-width="0.15">6</text>
<text x="236.5" y="267.8" font-size="10.5" text-anchor="start" fill="#222" font-weight="normal" textLength="27.3" lengthAdjust="spacingAndGlyphs">Time [d]</text>
<text transform="translate(175.8 237.2) rotate(-90)" font-size="8.3" fill="#222" stroke="#222" stroke-width="0.12" textLength="72.5" lengthAdjust="spacingAndGlyphs">Normalized cell count</text>
<text x="234.4" y="163.8" font-size="10" text-anchor="start" fill="#2a2a2a" font-weight="normal" textLength="42.9" lengthAdjust="spacingAndGlyphs">SU-DHL-5</text>
<rect x="347.35" y="190.7" width="6" height="54.7" fill="#c8102e"/>
<rect x="347.35" y="190.7" width="6" height="0.7" fill="#a60d25"/>
<rect x="355.45" y="190.7" width="6" height="54.7" fill="#c8102e"/>
<rect x="355.45" y="190.7" width="6" height="0.7" fill="#a60d25"/>
<rect x="357.9" y="188.53" width="1.1" height="2.17" fill="#000"/>
<rect x="356.95" y="188.23" width="3" height="1.1" fill="#000"/>
<rect x="363.55" y="190.7" width="6" height="54.7" fill="#c8102e"/>
<rect x="363.55" y="190.7" width="6" height="0.7" fill="#a60d25"/>
<rect x="366" y="190.16" width="1.1" height="0.54" fill="#000"/>
<rect x="365.05" y="189.86" width="3" height="1.1" fill="#000"/>
<rect x="371.65" y="190.7" width="6" height="54.7" fill="#c8102e"/>
<rect x="371.65" y="190.7" width="6" height="0.7" fill="#a60d25"/>
<rect x="374.1" y="187.99" width="1.1" height="2.71" fill="#000"/>
<rect x="373.15" y="187.69" width="3" height="1.1" fill="#000"/>
<rect x="379.75" y="190.7" width="6" height="54.7" fill="#c8102e"/>
<rect x="379.75" y="190.7" width="6" height="0.7" fill="#a60d25"/>
<rect x="387.85" y="190.7" width="6" height="54.7" fill="#c8102e"/>
<rect x="387.85" y="190.7" width="6" height="0.7" fill="#a60d25"/>
<rect x="390.3" y="187.99" width="1.1" height="2.71" fill="#000"/>
<rect x="389.35" y="187.69" width="3" height="1.1" fill="#000"/>
<rect x="395.95" y="190.7" width="6" height="54.7" fill="#c8102e"/>
<rect x="395.95" y="190.7" width="6" height="0.7" fill="#a60d25"/>
<rect x="398.4" y="185.27" width="1.1" height="5.43" fill="#000"/>
<rect x="397.45" y="184.97" width="3" height="1.1" fill="#000"/>
<rect x="408.5" y="190.7" width="6" height="54.7" fill="#144f85"/>
<rect x="408.5" y="190.7" width="6" height="0.7" fill="#0f3f69"/>
<rect x="416.6" y="236.98" width="6" height="8.42" fill="#144f85"/>
<rect x="416.6" y="236.98" width="6" height="0.7" fill="#0f3f69"/>
<rect x="419.05" y="236.43" width="1.1" height="0.54" fill="#000"/>
<rect x="418.1" y="236.13" width="3" height="1.1" fill="#000"/>
<rect x="424.7" y="240.94" width="6" height="4.46" fill="#144f85"/>
<rect x="424.7" y="240.94" width="6" height="0.7" fill="#0f3f69"/>
<rect x="427.15" y="240.39" width="1.1" height="0.54" fill="#000"/>
<rect x="426.2" y="240.09" width="3" height="1.1" fill="#000"/>
<rect x="432.8" y="241.42" width="6" height="3.98" fill="#144f85"/>
<rect x="432.8" y="241.42" width="6" height="0.7" fill="#0f3f69"/>
<rect x="435.25" y="240.88" width="1.1" height="0.54" fill="#000"/>
<rect x="434.3" y="240.58" width="3" height="1.1" fill="#000"/>
<rect x="440.9" y="244.3" width="6" height="1.1" fill="#144f85"/>
<rect x="440.9" y="244.3" width="6" height="0.7" fill="#0f3f69"/>
<rect x="443.35" y="243.76" width="1.1" height="0.54" fill="#000"/>
<rect x="442.4" y="243.46" width="3" height="1.1" fill="#000"/>
<rect x="449" y="244.3" width="6" height="1.1" fill="#144f85"/>
<rect x="449" y="244.3" width="6" height="0.7" fill="#0f3f69"/>
<rect x="451.45" y="243.76" width="1.1" height="0.54" fill="#000"/>
<rect x="450.5" y="243.46" width="3" height="1.1" fill="#000"/>
<rect x="457.1" y="244.73" width="6" height="0.67" fill="#144f85"/>
<rect x="457.1" y="244.73" width="6" height="0.7" fill="#0f3f69"/>
<rect x="343.55" y="163.53" width="1.1" height="82.38" fill="#111"/>
<rect x="341.6" y="244.9" width="124.7" height="1.0" fill="#111"/>
<rect x="341.6" y="244.85" width="2.5" height="1.1" fill="#000"/>
<text x="340.2" y="248.1" font-size="7.9" text-anchor="end" fill="#2a2a2a" font-weight="normal" textLength="9.8" lengthAdjust="spacingAndGlyphs">0.0</text>
<rect x="341.6" y="217.72" width="2.5" height="1.1" fill="#000"/>
<text x="340.2" y="220.97" font-size="7.9" text-anchor="end" fill="#2a2a2a" font-weight="normal" textLength="9.8" lengthAdjust="spacingAndGlyphs">0.5</text>
<rect x="341.6" y="190.6" width="2.5" height="1.1" fill="#000"/>
<text x="340.2" y="193.85" font-size="7.9" text-anchor="end" fill="#2a2a2a" font-weight="normal" textLength="9.8" lengthAdjust="spacingAndGlyphs">1.0</text>
<rect x="341.6" y="163.47" width="2.5" height="1.1" fill="#000"/>
<text x="340.2" y="166.72" font-size="7.9" text-anchor="end" fill="#2a2a2a" font-weight="normal" textLength="9.8" lengthAdjust="spacingAndGlyphs">1.5</text>
<rect x="349.8" y="245.9" width="1.1" height="2.1" fill="#000"/>
<text x="350.35" y="255" font-size="6.8" text-anchor="middle" fill="#222" font-weight="normal" textLength="3.3" lengthAdjust="spacingAndGlyphs" stroke="#222" stroke-width="0.15">0</text>
<rect x="357.9" y="245.9" width="1.1" height="2.1" fill="#000"/>
<text x="358.45" y="255" font-size="6.8" text-anchor="middle" fill="#222" font-weight="normal" textLength="3.3" lengthAdjust="spacingAndGlyphs" stroke="#222" stroke-width="0.15">1</text>
<rect x="366" y="245.9" width="1.1" height="2.1" fill="#000"/>
<text x="366.55" y="255" font-size="6.8" text-anchor="middle" fill="#222" font-weight="normal" textLength="3.3" lengthAdjust="spacingAndGlyphs" stroke="#222" stroke-width="0.15">2</text>
<rect x="374.1" y="245.9" width="1.1" height="2.1" fill="#000"/>
<text x="374.65" y="255" font-size="6.8" text-anchor="middle" fill="#222" font-weight="normal" textLength="3.3" lengthAdjust="spacingAndGlyphs" stroke="#222" stroke-width="0.15">3</text>
<rect x="382.2" y="245.9" width="1.1" height="2.1" fill="#000"/>
<text x="382.75" y="255" font-size="6.8" text-anchor="middle" fill="#222" font-weight="normal" textLength="3.3" lengthAdjust="spacingAndGlyphs" stroke="#222" stroke-width="0.15">4</text>
<rect x="390.3" y="245.9" width="1.1" height="2.1" fill="#000"/>
<text x="390.85" y="255" font-size="6.8" text-anchor="middle" fill="#222" font-weight="normal" textLength="3.3" lengthAdjust="spacingAndGlyphs" stroke="#222" stroke-width="0.15">5</text>
<rect x="398.4" y="245.9" width="1.1" height="2.1" fill="#000"/>
<text x="398.95" y="255" font-size="6.8" text-anchor="middle" fill="#222" font-weight="normal" textLength="3.3" lengthAdjust="spacingAndGlyphs" stroke="#222" stroke-width="0.15">6</text>
<rect x="410.95" y="245.9" width="1.1" height="2.1" fill="#000"/>
<text x="411.5" y="255" font-size="6.8" text-anchor="middle" fill="#222" font-weight="normal" textLength="3.3" lengthAdjust="spacingAndGlyphs" stroke="#222" stroke-width="0.15">0</text>
<rect x="419.05" y="245.9" width="1.1" height="2.1" fill="#000"/>
<text x="419.6" y="255" font-size="6.8" text-anchor="middle" fill="#222" font-weight="normal" textLength="3.3" lengthAdjust="spacingAndGlyphs" stroke="#222" stroke-width="0.15">1</text>
<rect x="427.15" y="245.9" width="1.1" height="2.1" fill="#000"/>
<text x="427.7" y="255" font-size="6.8" text-anchor="middle" fill="#222" font-weight="normal" textLength="3.3" lengthAdjust="spacingAndGlyphs" stroke="#222" stroke-width="0.15">2</text>
<rect x="435.25" y="245.9" width="1.1" height="2.1" fill="#000"/>
<text x="435.8" y="255" font-size="6.8" text-anchor="middle" fill="#222" font-weight="normal" textLength="3.3" lengthAdjust="spacingAndGlyphs" stroke="#222" stroke-width="0.15">3</text>
<rect x="443.35" y="245.9" width="1.1" height="2.1" fill="#000"/>
<text x="443.9" y="255" font-size="6.8" text-anchor="middle" fill="#222" font-weight="normal" textLength="3.3" lengthAdjust="spacingAndGlyphs" stroke="#222" stroke-width="0.15">4</text>
<rect x="451.45" y="245.9" width="1.1" height="2.1" fill="#000"/>
<text x="452" y="255" font-size="6.8" text-anchor="middle" fill="#222" font-weight="normal" textLength="3.3" lengthAdjust="spacingAndGlyphs" stroke="#222" stroke-width="0.15">5</text>
<rect x="459.55" y="245.9" width="1.1" height="2.1" fill="#000"/>
<text x="460.1" y="255" font-size="6.8" text-anchor="middle" fill="#222" font-weight="normal" textLength="3.3" lengthAdjust="spacingAndGlyphs" stroke="#222" stroke-width="0.15">6</text>
<text x="389.1" y="267.8" font-size="10.5" text-anchor="start" fill="#222" font-weight="normal" textLength="27.3" lengthAdjust="spacingAndGlyphs">Time [d]</text>
<text transform="translate(328.4 237.2) rotate(-90)" font-size="8.3" fill="#222" stroke="#222" stroke-width="0.12" textLength="72.5" lengthAdjust="spacingAndGlyphs">Normalized cell count</text>
<text x="380.65" y="163.8" font-size="10" text-anchor="start" fill="#2a2a2a" font-weight="normal" textLength="56.6" lengthAdjust="spacingAndGlyphs">WSU-DLCL-2</text>
<rect x="41.85" y="338.2" width="6" height="54.7" fill="#c8102e"/>
<rect x="41.85" y="338.2" width="6" height="0.7" fill="#a60d25"/>
<rect x="49.95" y="338.2" width="6" height="54.7" fill="#c8102e"/>
<rect x="49.95" y="338.2" width="6" height="0.7" fill="#a60d25"/>
<rect x="52.4" y="332.77" width="1.1" height="5.43" fill="#000"/>
<rect x="51.45" y="332.47" width="3" height="1.1" fill="#000"/>
<rect x="58.05" y="338.2" width="6" height="54.7" fill="#c8102e"/>
<rect x="58.05" y="338.2" width="6" height="0.7" fill="#a60d25"/>
<rect x="60.5" y="335.49" width="1.1" height="2.71" fill="#000"/>
<rect x="59.55" y="335.19" width="3" height="1.1" fill="#000"/>
<rect x="66.15" y="338.2" width="6" height="54.7" fill="#c8102e"/>
<rect x="66.15" y="338.2" width="6" height="0.7" fill="#a60d25"/>
<rect x="68.6" y="336.03" width="1.1" height="2.17" fill="#000"/>
<rect x="67.65" y="335.73" width="3" height="1.1" fill="#000"/>
<rect x="74.25" y="338.2" width="6" height="54.7" fill="#c8102e"/>
<rect x="74.25" y="338.2" width="6" height="0.7" fill="#a60d25"/>
<rect x="76.7" y="336.03" width="1.1" height="2.17" fill="#000"/>
<rect x="75.75" y="335.73" width="3" height="1.1" fill="#000"/>
<rect x="82.35" y="338.2" width="6" height="54.7" fill="#c8102e"/>
<rect x="82.35" y="338.2" width="6" height="0.7" fill="#a60d25"/>
<rect x="84.8" y="336.57" width="1.1" height="1.63" fill="#000"/>
<rect x="83.85" y="336.27" width="3" height="1.1" fill="#000"/>
<rect x="90.45" y="338.2" width="6" height="54.7" fill="#c8102e"/>
<rect x="90.45" y="338.2" width="6" height="0.7" fill="#a60d25"/>
<rect x="92.9" y="337.66" width="1.1" height="0.54" fill="#000"/>
<rect x="91.95" y="337.36" width="3" height="1.1" fill="#000"/>
<rect x="103" y="338.2" width="6" height="54.7" fill="#144f85"/>
<rect x="103" y="338.2" width="6" height="0.7" fill="#0f3f69"/>
<rect x="111.1" y="344.38" width="6" height="48.52" fill="#144f85"/>
<rect x="111.1" y="344.38" width="6" height="0.7" fill="#0f3f69"/>
<rect x="113.55" y="341.67" width="1.1" height="2.71" fill="#000"/>
<rect x="112.6" y="341.37" width="3" height="1.1" fill="#000"/>
<rect x="119.2" y="360.88" width="6" height="32.02" fill="#144f85"/>
<rect x="119.2" y="360.88" width="6" height="0.7" fill="#0f3f69"/>
<rect x="121.65" y="360.33" width="1.1" height="0.54" fill="#000"/>
<rect x="120.7" y="360.03" width="3" height="1.1" fill="#000"/>
<rect x="127.3" y="370.64" width="6" height="22.26" fill="#144f85"/>
<rect x="127.3" y="370.64" width="6" height="0.7" fill="#0f3f69"/>
<rect x="129.75" y="368.47" width="1.1" height="2.17" fill="#000"/>
<rect x="128.8" y="368.17" width="3" height="1.1" fill="#000"/>
<rect x="135.4" y="382.9" width="6" height="10" fill="#144f85"/>
<rect x="135.4" y="382.9" width="6" height="0.7" fill="#0f3f69"/>
<rect x="137.85" y="382.36" width="1.1" height="0.54" fill="#000"/>
<rect x="136.9" y="382.06" width="3" height="1.1" fill="#000"/>
<rect x="143.5" y="387.62" width="6" height="5.28" fill="#144f85"/>
<rect x="143.5" y="387.62" width="6" height="0.7" fill="#0f3f69"/>
<rect x="145.95" y="387.35" width="1.1" height="0.27" fill="#000"/>
<rect x="145" y="387.05" width="3" height="1.1" fill="#000"/>
<rect x="151.6" y="390.39" width="6" height="2.51" fill="#144f85"/>
<rect x="151.6" y="390.39" width="6" height="0.7" fill="#0f3f69"/>
<rect x="154.05" y="390.12" width="1.1" height="0.27" fill="#000"/>
<rect x="153.1" y="389.82" width="3" height="1.1" fill="#000"/>
<rect x="38.05" y="311.02" width="1.1" height="82.38" fill="#111"/>
<rect x="36.1" y="392.4" width="124.7" height="1.0" fill="#111"/>
<rect x="36.1" y="392.35" width="2.5" height="1.1" fill="#000"/>
<rect x="36.1" y="365.22" width="2.5" height="1.1" fill="#000"/>
<text x="34.7" y="368.47" font-size="7.9" text-anchor="end" fill="#2a2a2a" font-weight="normal" textLength="9.8" lengthAdjust="spacingAndGlyphs">0.5</text>
<rect x="36.1" y="338.1" width="2.5" height="1.1" fill="#000"/>
<text x="34.7" y="341.35" font-size="7.9" text-anchor="end" fill="#2a2a2a" font-weight="normal" textLength="9.8" lengthAdjust="spacingAndGlyphs">1.0</text>
<rect x="36.1" y="310.97" width="2.5" height="1.1" fill="#000"/>
<text x="34.7" y="314.22" font-size="7.9" text-anchor="end" fill="#2a2a2a" font-weight="normal" textLength="9.8" lengthAdjust="spacingAndGlyphs">1.5</text>
<rect x="44.3" y="393.4" width="1.1" height="2.1" fill="#000"/>
<text x="44.85" y="402.5" font-size="6.8" text-anchor="middle" fill="#222" font-weight="normal" textLength="3.3" lengthAdjust="spacingAndGlyphs" stroke="#222" stroke-width="0.15">0</text>
<rect x="52.4" y="393.4" width="1.1" height="2.1" fill="#000"/>
<text x="52.95" y="402.5" font-size="6.8" text-anchor="middle" fill="#222" font-weight="normal" textLength="3.3" lengthAdjust="spacingAndGlyphs" stroke="#222" stroke-width="0.15">1</text>
<rect x="60.5" y="393.4" width="1.1" height="2.1" fill="#000"/>
<text x="61.05" y="402.5" font-size="6.8" text-anchor="middle" fill="#222" font-weight="normal" textLength="3.3" lengthAdjust="spacingAndGlyphs" stroke="#222" stroke-width="0.15">2</text>
<rect x="68.6" y="393.4" width="1.1" height="2.1" fill="#000"/>
<text x="69.15" y="402.5" font-size="6.8" text-anchor="middle" fill="#222" font-weight="normal" textLength="3.3" lengthAdjust="spacingAndGlyphs" stroke="#222" stroke-width="0.15">3</text>
<rect x="76.7" y="393.4" width="1.1" height="2.1" fill="#000"/>
<text x="77.25" y="402.5" font-size="6.8" text-anchor="middle" fill="#222" font-weight="normal" textLength="3.3" lengthAdjust="spacingAndGlyphs" stroke="#222" stroke-width="0.15">4</text>
<rect x="84.8" y="393.4" width="1.1" height="2.1" fill="#000"/>
<text x="85.35" y="402.5" font-size="6.8" text-anchor="middle" fill="#222" font-weight="normal" textLength="3.3" lengthAdjust="spacingAndGlyphs" stroke="#222" stroke-width="0.15">5</text>
<rect x="92.9" y="393.4" width="1.1" height="2.1" fill="#000"/>
<text x="93.45" y="402.5" font-size="6.8" text-anchor="middle" fill="#222" font-weight="normal" textLength="3.3" lengthAdjust="spacingAndGlyphs" stroke="#222" stroke-width="0.15">6</text>
<rect x="105.45" y="393.4" width="1.1" height="2.1" fill="#000"/>
<text x="106" y="402.5" font-size="6.8" text-anchor="middle" fill="#222" font-weight="normal" textLength="3.3" lengthAdjust="spacingAndGlyphs" stroke="#222" stroke-width="0.15">0</text>
<rect x="113.55" y="393.4" width="1.1" height="2.1" fill="#000"/>
<text x="114.1" y="402.5" font-size="6.8" text-anchor="middle" fill="#222" font-weight="normal" textLength="3.3" lengthAdjust="spacingAndGlyphs" stroke="#222" stroke-width="0.15">1</text>
<rect x="121.65" y="393.4" width="1.1" height="2.1" fill="#000"/>
<text x="122.2" y="402.5" font-size="6.8" text-anchor="middle" fill="#222" font-weight="normal" textLength="3.3" lengthAdjust="spacingAndGlyphs" stroke="#222" stroke-width="0.15">2</text>
<rect x="129.75" y="393.4" width="1.1" height="2.1" fill="#000"/>
<text x="130.3" y="402.5" font-size="6.8" text-anchor="middle" fill="#222" font-weight="normal" textLength="3.3" lengthAdjust="spacingAndGlyphs" stroke="#222" stroke-width="0.15">3</text>
<rect x="137.85" y="393.4" width="1.1" height="2.1" fill="#000"/>
<text x="138.4" y="402.5" font-size="6.8" text-anchor="middle" fill="#222" font-weight="normal" textLength="3.3" lengthAdjust="spacingAndGlyphs" stroke="#222" stroke-width="0.15">4</text>
<rect x="145.95" y="393.4" width="1.1" height="2.1" fill="#000"/>
<text x="146.5" y="402.5" font-size="6.8" text-anchor="middle" fill="#222" font-weight="normal" textLength="3.3" lengthAdjust="spacingAndGlyphs" stroke="#222" stroke-width="0.15">5</text>
<rect x="154.05" y="393.4" width="1.1" height="2.1" fill="#000"/>
<text x="154.6" y="402.5" font-size="6.8" text-anchor="middle" fill="#222" font-weight="normal" textLength="3.3" lengthAdjust="spacingAndGlyphs" stroke="#222" stroke-width="0.15">6</text>
<text x="83.6" y="415.3" font-size="10.5" text-anchor="start" fill="#222" font-weight="normal" textLength="27.3" lengthAdjust="spacingAndGlyphs">Time [d]</text>
<text transform="translate(22.9 384.7) rotate(-90)" font-size="8.3" fill="#222" stroke="#222" stroke-width="0.12" textLength="72.5" lengthAdjust="spacingAndGlyphs">Normalized cell count</text>
<text x="87.5" y="311" font-size="10" text-anchor="start" fill="#2a2a2a" font-weight="normal" textLength="25.6" lengthAdjust="spacingAndGlyphs">HBL-1</text>
<rect x="194.75" y="338.2" width="6" height="54.7" fill="#c8102e"/>
<rect x="194.75" y="338.2" width="6" height="0.7" fill="#a60d25"/>
<rect x="202.85" y="338.2" width="6" height="54.7" fill="#c8102e"/>
<rect x="202.85" y="338.2" width="6" height="0.7" fill="#a60d25"/>
<rect x="205.3" y="334.94" width="1.1" height="3.25" fill="#000"/>
<rect x="204.35" y="334.64" width="3" height="1.1" fill="#000"/>
<rect x="210.95" y="338.2" width="6" height="54.7" fill="#c8102e"/>
<rect x="210.95" y="338.2" width="6" height="0.7" fill="#a60d25"/>
<rect x="213.4" y="334.94" width="1.1" height="3.25" fill="#000"/>
<rect x="212.45" y="334.64" width="3" height="1.1" fill="#000"/>
<rect x="219.05" y="338.2" width="6" height="54.7" fill="#c8102e"/>
<rect x="219.05" y="338.2" width="6" height="0.7" fill="#a60d25"/>
<rect x="221.5" y="337.12" width="1.1" height="1.08" fill="#000"/>
<rect x="220.55" y="336.81" width="3" height="1.1" fill="#000"/>
<rect x="227.15" y="338.2" width="6" height="54.7" fill="#c8102e"/>
<rect x="227.15" y="338.2" width="6" height="0.7" fill="#a60d25"/>
<rect x="229.6" y="336.03" width="1.1" height="2.17" fill="#000"/>
<rect x="228.65" y="335.73" width="3" height="1.1" fill="#000"/>
<rect x="235.25" y="338.2" width="6" height="54.7" fill="#c8102e"/>
<rect x="235.25" y="338.2" width="6" height="0.7" fill="#a60d25"/>
<rect x="237.7" y="334.94" width="1.1" height="3.25" fill="#000"/>
<rect x="236.75" y="334.64" width="3" height="1.1" fill="#000"/>
<rect x="243.35" y="338.2" width="6" height="54.7" fill="#c8102e"/>
<rect x="243.35" y="338.2" width="6" height="0.7" fill="#a60d25"/>
<rect x="245.8" y="337.66" width="1.1" height="0.54" fill="#000"/>
<rect x="244.85" y="337.36" width="3" height="1.1" fill="#000"/>
<rect x="255.9" y="338.2" width="6" height="54.7" fill="#144f85"/>
<rect x="255.9" y="338.2" width="6" height="0.7" fill="#0f3f69"/>
<rect x="264" y="350.57" width="6" height="42.33" fill="#144f85"/>
<rect x="264" y="350.57" width="6" height="0.7" fill="#0f3f69"/>
<rect x="266.45" y="350.3" width="1.1" height="0.27" fill="#000"/>
<rect x="265.5" y="350" width="3" height="1.1" fill="#000"/>
<rect x="272.1" y="378.24" width="6" height="14.66" fill="#144f85"/>
<rect x="272.1" y="378.24" width="6" height="0.7" fill="#0f3f69"/>
<rect x="274.55" y="377.97" width="1.1" height="0.27" fill="#000"/>
<rect x="273.6" y="377.67" width="3" height="1.1" fill="#000"/>
<rect x="280.2" y="384.91" width="6" height="7.99" fill="#144f85"/>
<rect x="280.2" y="384.91" width="6" height="0.7" fill="#0f3f69"/>
<rect x="282.65" y="384.37" width="1.1" height="0.54" fill="#000"/>
<rect x="281.7" y="384.07" width="3" height="1.1" fill="#000"/>
<rect x="288.3" y="390.88" width="6" height="2.02" fill="#144f85"/>
<rect x="288.3" y="390.88" width="6" height="0.7" fill="#0f3f69"/>
<rect x="290.75" y="390.61" width="1.1" height="0.27" fill="#000"/>
<rect x="289.8" y="390.31" width="3" height="1.1" fill="#000"/>
<rect x="296.4" y="390.39" width="6" height="2.51" fill="#144f85"/>
<rect x="296.4" y="390.39" width="6" height="0.7" fill="#0f3f69"/>
<rect x="298.85" y="390.12" width="1.1" height="0.27" fill="#000"/>
<rect x="297.9" y="389.82" width="3" height="1.1" fill="#000"/>
<rect x="304.5" y="392.34" width="6" height="0.56" fill="#144f85"/>
<rect x="304.5" y="392.34" width="6" height="0.7" fill="#0f3f69"/>
<rect x="190.95" y="311.02" width="1.1" height="82.38" fill="#111"/>
<rect x="189" y="392.4" width="124.7" height="1.0" fill="#111"/>
<rect x="189" y="392.35" width="2.5" height="1.1" fill="#000"/>
<rect x="189" y="365.22" width="2.5" height="1.1" fill="#000"/>
<text x="187.6" y="368.47" font-size="7.9" text-anchor="end" fill="#2a2a2a" font-weight="normal" textLength="9.8" lengthAdjust="spacingAndGlyphs">0.5</text>
<rect x="189" y="338.1" width="2.5" height="1.1" fill="#000"/>
<text x="187.6" y="341.35" font-size="7.9" text-anchor="end" fill="#2a2a2a" font-weight="normal" textLength="9.8" lengthAdjust="spacingAndGlyphs">1.0</text>
<rect x="189" y="310.97" width="2.5" height="1.1" fill="#000"/>
<text x="187.6" y="314.22" font-size="7.9" text-anchor="end" fill="#2a2a2a" font-weight="normal" textLength="9.8" lengthAdjust="spacingAndGlyphs">1.5</text>
<rect x="197.2" y="393.4" width="1.1" height="2.1" fill="#000"/>
<text x="197.75" y="402.5" font-size="6.8" text-anchor="middle" fill="#222" font-weight="normal" textLength="3.3" lengthAdjust="spacingAndGlyphs" stroke="#222" stroke-width="0.15">0</text>
<rect x="205.3" y="393.4" width="1.1" height="2.1" fill="#000"/>
<text x="205.85" y="402.5" font-size="6.8" text-anchor="middle" fill="#222" font-weight="normal" textLength="3.3" lengthAdjust="spacingAndGlyphs" stroke="#222" stroke-width="0.15">1</text>
<rect x="213.4" y="393.4" width="1.1" height="2.1" fill="#000"/>
<text x="213.95" y="402.5" font-size="6.8" text-anchor="middle" fill="#222" font-weight="normal" textLength="3.3" lengthAdjust="spacingAndGlyphs" stroke="#222" stroke-width="0.15">2</text>
<rect x="221.5" y="393.4" width="1.1" height="2.1" fill="#000"/>
<text x="222.05" y="402.5" font-size="6.8" text-anchor="middle" fill="#222" font-weight="normal" textLength="3.3" lengthAdjust="spacingAndGlyphs" stroke="#222" stroke-width="0.15">3</text>
<rect x="229.6" y="393.4" width="1.1" height="2.1" fill="#000"/>
<text x="230.15" y="402.5" font-size="6.8" text-anchor="middle" fill="#222" font-weight="normal" textLength="3.3" lengthAdjust="spacingAndGlyphs" stroke="#222" stroke-width="0.15">4</text>
<rect x="237.7" y="393.4" width="1.1" height="2.1" fill="#000"/>
<text x="238.25" y="402.5" font-size="6.8" text-anchor="middle" fill="#222" font-weight="normal" textLength="3.3" lengthAdjust="spacingAndGlyphs" stroke="#222" stroke-width="0.15">5</text>
<rect x="245.8" y="393.4" width="1.1" height="2.1" fill="#000"/>
<text x="246.35" y="402.5" font-size="6.8" text-anchor="middle" fill="#222" font-weight="normal" textLength="3.3" lengthAdjust="spacingAndGlyphs" stroke="#222" stroke-width="0.15">6</text>
<rect x="258.35" y="393.4" width="1.1" height="2.1" fill="#000"/>
<text x="258.9" y="402.5" font-size="6.8" text-anchor="middle" fill="#222" font-weight="normal" textLength="3.3" lengthAdjust="spacingAndGlyphs" stroke="#222" stroke-width="0.15">0</text>
<rect x="266.45" y="393.4" width="1.1" height="2.1" fill="#000"/>
<text x="267" y="402.5" font-size="6.8" text-anchor="middle" fill="#222" font-weight="normal" textLength="3.3" lengthAdjust="spacingAndGlyphs" stroke="#222" stroke-width="0.15">1</text>
<rect x="274.55" y="393.4" width="1.1" height="2.1" fill="#000"/>
<text x="275.1" y="402.5" font-size="6.8" text-anchor="middle" fill="#222" font-weight="normal" textLength="3.3" lengthAdjust="spacingAndGlyphs" stroke="#222" stroke-width="0.15">2</text>
<rect x="282.65" y="393.4" width="1.1" height="2.1" fill="#000"/>
<text x="283.2" y="402.5" font-size="6.8" text-anchor="middle" fill="#222" font-weight="normal" textLength="3.3" lengthAdjust="spacingAndGlyphs" stroke="#222" stroke-width="0.15">3</text>
<rect x="290.75" y="393.4" width="1.1" height="2.1" fill="#000"/>
<text x="291.3" y="402.5" font-size="6.8" text-anchor="middle" fill="#222" font-weight="normal" textLength="3.3" lengthAdjust="spacingAndGlyphs" stroke="#222" stroke-width="0.15">4</text>
<rect x="298.85" y="393.4" width="1.1" height="2.1" fill="#000"/>
<text x="299.4" y="402.5" font-size="6.8" text-anchor="middle" fill="#222" font-weight="normal" textLength="3.3" lengthAdjust="spacingAndGlyphs" stroke="#222" stroke-width="0.15">5</text>
<rect x="306.95" y="393.4" width="1.1" height="2.1" fill="#000"/>
<text x="307.5" y="402.5" font-size="6.8" text-anchor="middle" fill="#222" font-weight="normal" textLength="3.3" lengthAdjust="spacingAndGlyphs" stroke="#222" stroke-width="0.15">6</text>
<text x="236.5" y="415.3" font-size="10.5" text-anchor="start" fill="#222" font-weight="normal" textLength="27.3" lengthAdjust="spacingAndGlyphs">Time [d]</text>
<text transform="translate(175.8 384.7) rotate(-90)" font-size="8.3" fill="#222" stroke="#222" stroke-width="0.12" textLength="72.5" lengthAdjust="spacingAndGlyphs">Normalized cell count</text>
<text x="241.9" y="311" font-size="10" text-anchor="start" fill="#2a2a2a" font-weight="normal" textLength="26.6" lengthAdjust="spacingAndGlyphs">TMD8</text>
<rect x="347.35" y="338.2" width="6" height="54.7" fill="#c8102e"/>
<rect x="347.35" y="338.2" width="6" height="0.7" fill="#a60d25"/>
<rect x="355.45" y="338.2" width="6" height="54.7" fill="#c8102e"/>
<rect x="355.45" y="338.2" width="6" height="0.7" fill="#a60d25"/>
<rect x="357.9" y="330.06" width="1.1" height="8.14" fill="#000"/>
<rect x="356.95" y="329.76" width="3" height="1.1" fill="#000"/>
<rect x="363.55" y="338.2" width="6" height="54.7" fill="#c8102e"/>
<rect x="363.55" y="338.2" width="6" height="0.7" fill="#a60d25"/>
<rect x="366" y="336.03" width="1.1" height="2.17" fill="#000"/>
<rect x="365.05" y="335.73" width="3" height="1.1" fill="#000"/>
<rect x="371.65" y="338.2" width="6" height="54.7" fill="#c8102e"/>
<rect x="371.65" y="338.2" width="6" height="0.7" fill="#a60d25"/>
<rect x="374.1" y="331.69" width="1.1" height="6.51" fill="#000"/>
<rect x="373.15" y="331.39" width="3" height="1.1" fill="#000"/>
<rect x="379.75" y="338.2" width="6" height="54.7" fill="#c8102e"/>
<rect x="379.75" y="338.2" width="6" height="0.7" fill="#a60d25"/>
<rect x="382.2" y="337.12" width="1.1" height="1.08" fill="#000"/>
<rect x="381.25" y="336.81" width="3" height="1.1" fill="#000"/>
<rect x="387.85" y="338.2" width="6" height="54.7" fill="#c8102e"/>
<rect x="387.85" y="338.2" width="6" height="0.7" fill="#a60d25"/>
<rect x="390.3" y="337.12" width="1.1" height="1.08" fill="#000"/>
<rect x="389.35" y="336.81" width="3" height="1.1" fill="#000"/>
<rect x="395.95" y="338.2" width="6" height="54.7" fill="#c8102e"/>
<rect x="395.95" y="338.2" width="6" height="0.7" fill="#a60d25"/>
<rect x="398.4" y="334.94" width="1.1" height="3.25" fill="#000"/>
<rect x="397.45" y="334.64" width="3" height="1.1" fill="#000"/>
<rect x="408.5" y="338.2" width="6" height="54.7" fill="#144f85"/>
<rect x="408.5" y="338.2" width="6" height="0.7" fill="#0f3f69"/>
<rect x="416.6" y="339.18" width="6" height="53.72" fill="#144f85"/>
<rect x="416.6" y="339.18" width="6" height="0.7" fill="#0f3f69"/>
<rect x="419.05" y="336.46" width="1.1" height="2.71" fill="#000"/>
<rect x="418.1" y="336.16" width="3" height="1.1" fill="#000"/>
<rect x="424.7" y="362.5" width="6" height="30.4" fill="#144f85"/>
<rect x="424.7" y="362.5" width="6" height="0.7" fill="#0f3f69"/>
<rect x="427.15" y="361.96" width="1.1" height="0.54" fill="#000"/>
<rect x="426.2" y="361.66" width="3" height="1.1" fill="#000"/>
<rect x="432.8" y="373.63" width="6" height="19.27" fill="#144f85"/>
<rect x="432.8" y="373.63" width="6" height="0.7" fill="#0f3f69"/>
<rect x="435.25" y="373.35" width="1.1" height="0.27" fill="#000"/>
<rect x="434.3" y="373.05" width="3" height="1.1" fill="#000"/>
<rect x="440.9" y="385.4" width="6" height="7.5" fill="#144f85"/>
<rect x="440.9" y="385.4" width="6" height="0.7" fill="#0f3f69"/>
<rect x="443.35" y="385.13" width="1.1" height="0.27" fill="#000"/>
<rect x="442.4" y="384.83" width="3" height="1.1" fill="#000"/>
<rect x="449" y="387.89" width="6" height="5.01" fill="#144f85"/>
<rect x="449" y="387.89" width="6" height="0.7" fill="#0f3f69"/>
<rect x="451.45" y="386.27" width="1.1" height="1.63" fill="#000"/>
<rect x="450.5" y="385.97" width="3" height="1.1" fill="#000"/>
<rect x="457.1" y="391.15" width="6" height="1.75" fill="#144f85"/>
<rect x="457.1" y="391.15" width="6" height="0.7" fill="#0f3f69"/>
<rect x="459.55" y="390.88" width="1.1" height="0.27" fill="#000"/>
<rect x="458.6" y="390.58" width="3" height="1.1" fill="#000"/>
<rect x="343.55" y="311.02" width="1.1" height="82.38" fill="#111"/>
<rect x="341.6" y="392.4" width="124.7" height="1.0" fill="#111"/>
<rect x="341.6" y="392.35" width="2.5" height="1.1" fill="#000"/>
<rect x="341.6" y="365.22" width="2.5" height="1.1" fill="#000"/>
<text x="340.2" y="368.47" font-size="7.9" text-anchor="end" fill="#2a2a2a" font-weight="normal" textLength="9.8" lengthAdjust="spacingAndGlyphs">0.5</text>
<rect x="341.6" y="338.1" width="2.5" height="1.1" fill="#000"/>
<text x="340.2" y="341.35" font-size="7.9" text-anchor="end" fill="#2a2a2a" font-weight="normal" textLength="9.8" lengthAdjust="spacingAndGlyphs">1.0</text>
<rect x="341.6" y="310.97" width="2.5" height="1.1" fill="#000"/>
<text x="340.2" y="314.22" font-size="7.9" text-anchor="end" fill="#2a2a2a" font-weight="normal" textLength="9.8" lengthAdjust="spacingAndGlyphs">1.5</text>
<rect x="349.8" y="393.4" width="1.1" height="2.1" fill="#000"/>
<text x="350.35" y="402.5" font-size="6.8" text-anchor="middle" fill="#222" font-weight="normal" textLength="3.3" lengthAdjust="spacingAndGlyphs" stroke="#222" stroke-width="0.15">0</text>
<rect x="357.9" y="393.4" width="1.1" height="2.1" fill="#000"/>
<text x="358.45" y="402.5" font-size="6.8" text-anchor="middle" fill="#222" font-weight="normal" textLength="3.3" lengthAdjust="spacingAndGlyphs" stroke="#222" stroke-width="0.15">1</text>
<rect x="366" y="393.4" width="1.1" height="2.1" fill="#000"/>
<text x="366.55" y="402.5" font-size="6.8" text-anchor="middle" fill="#222" font-weight="normal" textLength="3.3" lengthAdjust="spacingAndGlyphs" stroke="#222" stroke-width="0.15">2</text>
<rect x="374.1" y="393.4" width="1.1" height="2.1" fill="#000"/>
<text x="374.65" y="402.5" font-size="6.8" text-anchor="middle" fill="#222" font-weight="normal" textLength="3.3" lengthAdjust="spacingAndGlyphs" stroke="#222" stroke-width="0.15">3</text>
<rect x="382.2" y="393.4" width="1.1" height="2.1" fill="#000"/>
<text x="382.75" y="402.5" font-size="6.8" text-anchor="middle" fill="#222" font-weight="normal" textLength="3.3" lengthAdjust="spacingAndGlyphs" stroke="#222" stroke-width="0.15">4</text>
<rect x="390.3" y="393.4" width="1.1" height="2.1" fill="#000"/>
<text x="390.85" y="402.5" font-size="6.8" text-anchor="middle" fill="#222" font-weight="normal" textLength="3.3" lengthAdjust="spacingAndGlyphs" stroke="#222" stroke-width="0.15">5</text>
<rect x="398.4" y="393.4" width="1.1" height="2.1" fill="#000"/>
<text x="398.95" y="402.5" font-size="6.8" text-anchor="middle" fill="#222" font-weight="normal" textLength="3.3" lengthAdjust="spacingAndGlyphs" stroke="#222" stroke-width="0.15">6</text>
<rect x="410.95" y="393.4" width="1.1" height="2.1" fill="#000"/>
<text x="411.5" y="402.5" font-size="6.8" text-anchor="middle" fill="#222" font-weight="normal" textLength="3.3" lengthAdjust="spacingAndGlyphs" stroke="#222" stroke-width="0.15">0</text>
<rect x="419.05" y="393.4" width="1.1" height="2.1" fill="#000"/>
<text x="419.6" y="402.5" font-size="6.8" text-anchor="middle" fill="#222" font-weight="normal" textLength="3.3" lengthAdjust="spacingAndGlyphs" stroke="#222" stroke-width="0.15">1</text>
<rect x="427.15" y="393.4" width="1.1" height="2.1" fill="#000"/>
<text x="427.7" y="402.5" font-size="6.8" text-anchor="middle" fill="#222" font-weight="normal" textLength="3.3" lengthAdjust="spacingAndGlyphs" stroke="#222" stroke-width="0.15">2</text>
<rect x="435.25" y="393.4" width="1.1" height="2.1" fill="#000"/>
<text x="435.8" y="402.5" font-size="6.8" text-anchor="middle" fill="#222" font-weight="normal" textLength="3.3" lengthAdjust="spacingAndGlyphs" stroke="#222" stroke-width="0.15">3</text>
<rect x="443.35" y="393.4" width="1.1" height="2.1" fill="#000"/>
<text x="443.9" y="402.5" font-size="6.8" text-anchor="middle" fill="#222" font-weight="normal" textLength="3.3" lengthAdjust="spacingAndGlyphs" stroke="#222" stroke-width="0.15">4</text>
<rect x="451.45" y="393.4" width="1.1" height="2.1" fill="#000"/>
<text x="452" y="402.5" font-size="6.8" text-anchor="middle" fill="#222" font-weight="normal" textLength="3.3" lengthAdjust="spacingAndGlyphs" stroke="#222" stroke-width="0.15">5</text>
<rect x="459.55" y="393.4" width="1.1" height="2.1" fill="#000"/>
<text x="460.1" y="402.5" font-size="6.8" text-anchor="middle" fill="#222" font-weight="normal" textLength="3.3" lengthAdjust="spacingAndGlyphs" stroke="#222" stroke-width="0.15">6</text>
<text x="389.1" y="415.3" font-size="10.5" text-anchor="start" fill="#222" font-weight="normal" textLength="27.3" lengthAdjust="spacingAndGlyphs">Time [d]</text>
<text transform="translate(328.4 384.7) rotate(-90)" font-size="8.3" fill="#222" stroke="#222" stroke-width="0.12" textLength="72.5" lengthAdjust="spacingAndGlyphs">Normalized cell count</text>
<text x="386.9" y="311" font-size="10" text-anchor="start" fill="#2a2a2a" font-weight="normal" textLength="42.5" lengthAdjust="spacingAndGlyphs">SU-DHL-2</text>
<rect x="41.85" y="469.8" width="6" height="54.7" fill="#c8102e"/>
<rect x="41.85" y="469.8" width="6" height="0.7" fill="#a60d25"/>
<rect x="49.95" y="469.8" width="6" height="54.7" fill="#c8102e"/>
<rect x="49.95" y="469.8" width="6" height="0.7" fill="#a60d25"/>
<rect x="52.4" y="468.72" width="1.1" height="1.08" fill="#000"/>
<rect x="51.45" y="468.42" width="3" height="1.1" fill="#000"/>
<rect x="58.05" y="469.8" width="6" height="54.7" fill="#c8102e"/>
<rect x="58.05" y="469.8" width="6" height="0.7" fill="#a60d25"/>
<rect x="60.5" y="468.72" width="1.1" height="1.08" fill="#000"/>
<rect x="59.55" y="468.42" width="3" height="1.1" fill="#000"/>
<rect x="66.15" y="469.8" width="6" height="54.7" fill="#c8102e"/>
<rect x="66.15" y="469.8" width="6" height="0.7" fill="#a60d25"/>
<rect x="68.6" y="469.53" width="1.1" height="0.27" fill="#000"/>
<rect x="67.65" y="469.23" width="3" height="1.1" fill="#000"/>
<rect x="74.25" y="469.8" width="6" height="54.7" fill="#c8102e"/>
<rect x="74.25" y="469.8" width="6" height="0.7" fill="#a60d25"/>
<rect x="76.7" y="468.72" width="1.1" height="1.08" fill="#000"/>
<rect x="75.75" y="468.42" width="3" height="1.1" fill="#000"/>
<rect x="82.35" y="469.8" width="6" height="54.7" fill="#c8102e"/>
<rect x="82.35" y="469.8" width="6" height="0.7" fill="#a60d25"/>
<rect x="84.8" y="469.53" width="1.1" height="0.27" fill="#000"/>
<rect x="83.85" y="469.23" width="3" height="1.1" fill="#000"/>
<rect x="90.45" y="469.8" width="6" height="54.7" fill="#c8102e"/>
<rect x="90.45" y="469.8" width="6" height="0.7" fill="#a60d25"/>
<rect x="92.9" y="467.09" width="1.1" height="2.71" fill="#000"/>
<rect x="91.95" y="466.79" width="3" height="1.1" fill="#000"/>
<rect x="103" y="469.8" width="6" height="54.7" fill="#144f85"/>
<rect x="103" y="469.8" width="6" height="0.7" fill="#0f3f69"/>
<rect x="111.1" y="479.51" width="6" height="44.99" fill="#144f85"/>
<rect x="111.1" y="479.51" width="6" height="0.7" fill="#0f3f69"/>
<rect x="113.55" y="479.24" width="1.1" height="0.27" fill="#000"/>
<rect x="112.6" y="478.94" width="3" height="1.1" fill="#000"/>
<rect x="119.2" y="493.72" width="6" height="30.78" fill="#144f85"/>
<rect x="119.2" y="493.72" width="6" height="0.7" fill="#0f3f69"/>
<rect x="121.65" y="492.1" width="1.1" height="1.63" fill="#000"/>
<rect x="120.7" y="491.8" width="3" height="1.1" fill="#000"/>
<rect x="127.3" y="503.98" width="6" height="20.52" fill="#144f85"/>
<rect x="127.3" y="503.98" width="6" height="0.7" fill="#0f3f69"/>
<rect x="129.75" y="501.27" width="1.1" height="2.71" fill="#000"/>
<rect x="128.8" y="500.97" width="3" height="1.1" fill="#000"/>
<rect x="135.4" y="513.25" width="6" height="11.25" fill="#144f85"/>
<rect x="135.4" y="513.25" width="6" height="0.7" fill="#0f3f69"/>
<rect x="137.85" y="511.08" width="1.1" height="2.17" fill="#000"/>
<rect x="136.9" y="510.78" width="3" height="1.1" fill="#000"/>
<rect x="143.5" y="519.06" width="6" height="5.44" fill="#144f85"/>
<rect x="143.5" y="519.06" width="6" height="0.7" fill="#0f3f69"/>
<rect x="145.95" y="516.89" width="1.1" height="2.17" fill="#000"/>
<rect x="145" y="516.59" width="3" height="1.1" fill="#000"/>
<rect x="151.6" y="521.5" width="6" height="3" fill="#144f85"/>
<rect x="151.6" y="521.5" width="6" height="0.7" fill="#0f3f69"/>
<rect x="154.05" y="520.96" width="1.1" height="0.54" fill="#000"/>
<rect x="153.1" y="520.66" width="3" height="1.1" fill="#000"/>
<rect x="38.05" y="442.62" width="1.1" height="82.38" fill="#111"/>
<rect x="36.1" y="524" width="124.7" height="1.0" fill="#111"/>
<rect x="36.1" y="523.95" width="2.5" height="1.1" fill="#000"/>
<text x="34.7" y="527.2" font-size="7.9" text-anchor="end" fill="#2a2a2a" font-weight="normal" textLength="9.8" lengthAdjust="spacingAndGlyphs">0.0</text>
<rect x="36.1" y="496.82" width="2.5" height="1.1" fill="#000"/>
<text x="34.7" y="500.07" font-size="7.9" text-anchor="end" fill="#2a2a2a" font-weight="normal" textLength="9.8" lengthAdjust="spacingAndGlyphs">0.5</text>
<rect x="36.1" y="469.7" width="2.5" height="1.1" fill="#000"/>
<text x="34.7" y="472.95" font-size="7.9" text-anchor="end" fill="#2a2a2a" font-weight="normal" textLength="9.8" lengthAdjust="spacingAndGlyphs">1.0</text>
<rect x="36.1" y="442.57" width="2.5" height="1.1" fill="#000"/>
<text x="34.7" y="445.82" font-size="7.9" text-anchor="end" fill="#2a2a2a" font-weight="normal" textLength="9.8" lengthAdjust="spacingAndGlyphs">1.5</text>
<rect x="44.3" y="525" width="1.1" height="2.1" fill="#000"/>
<text x="44.85" y="534.1" font-size="6.8" text-anchor="middle" fill="#222" font-weight="normal" textLength="3.3" lengthAdjust="spacingAndGlyphs" stroke="#222" stroke-width="0.15">0</text>
<rect x="52.4" y="525" width="1.1" height="2.1" fill="#000"/>
<text x="52.95" y="534.1" font-size="6.8" text-anchor="middle" fill="#222" font-weight="normal" textLength="3.3" lengthAdjust="spacingAndGlyphs" stroke="#222" stroke-width="0.15">1</text>
<rect x="60.5" y="525" width="1.1" height="2.1" fill="#000"/>
<text x="61.05" y="534.1" font-size="6.8" text-anchor="middle" fill="#222" font-weight="normal" textLength="3.3" lengthAdjust="spacingAndGlyphs" stroke="#222" stroke-width="0.15">2</text>
<rect x="68.6" y="525" width="1.1" height="2.1" fill="#000"/>
<text x="69.15" y="534.1" font-size="6.8" text-anchor="middle" fill="#222" font-weight="normal" textLength="3.3" lengthAdjust="spacingAndGlyphs" stroke="#222" stroke-width="0.15">3</text>
<rect x="76.7" y="525" width="1.1" height="2.1" fill="#000"/>
<text x="77.25" y="534.1" font-size="6.8" text-anchor="middle" fill="#222" font-weight="normal" textLength="3.3" lengthAdjust="spacingAndGlyphs" stroke="#222" stroke-width="0.15">4</text>
<rect x="84.8" y="525" width="1.1" height="2.1" fill="#000"/>
<text x="85.35" y="534.1" font-size="6.8" text-anchor="middle" fill="#222" font-weight="normal" textLength="3.3" lengthAdjust="spacingAndGlyphs" stroke="#222" stroke-width="0.15">5</text>
<rect x="92.9" y="525" width="1.1" height="2.1" fill="#000"/>
<text x="93.45" y="534.1" font-size="6.8" text-anchor="middle" fill="#222" font-weight="normal" textLength="3.3" lengthAdjust="spacingAndGlyphs" stroke="#222" stroke-width="0.15">6</text>
<rect x="105.45" y="525" width="1.1" height="2.1" fill="#000"/>
<text x="106" y="534.1" font-size="6.8" text-anchor="middle" fill="#222" font-weight="normal" textLength="3.3" lengthAdjust="spacingAndGlyphs" stroke="#222" stroke-width="0.15">0</text>
<rect x="113.55" y="525" width="1.1" height="2.1" fill="#000"/>
<text x="114.1" y="534.1" font-size="6.8" text-anchor="middle" fill="#222" font-weight="normal" textLength="3.3" lengthAdjust="spacingAndGlyphs" stroke="#222" stroke-width="0.15">1</text>
<rect x="121.65" y="525" width="1.1" height="2.1" fill="#000"/>
<text x="122.2" y="534.1" font-size="6.8" text-anchor="middle" fill="#222" font-weight="normal" textLength="3.3" lengthAdjust="spacingAndGlyphs" stroke="#222" stroke-width="0.15">2</text>
<rect x="129.75" y="525" width="1.1" height="2.1" fill="#000"/>
<text x="130.3" y="534.1" font-size="6.8" text-anchor="middle" fill="#222" font-weight="normal" textLength="3.3" lengthAdjust="spacingAndGlyphs" stroke="#222" stroke-width="0.15">3</text>
<rect x="137.85" y="525" width="1.1" height="2.1" fill="#000"/>
<text x="138.4" y="534.1" font-size="6.8" text-anchor="middle" fill="#222" font-weight="normal" textLength="3.3" lengthAdjust="spacingAndGlyphs" stroke="#222" stroke-width="0.15">4</text>
<rect x="145.95" y="525" width="1.1" height="2.1" fill="#000"/>
<text x="146.5" y="534.1" font-size="6.8" text-anchor="middle" fill="#222" font-weight="normal" textLength="3.3" lengthAdjust="spacingAndGlyphs" stroke="#222" stroke-width="0.15">5</text>
<rect x="154.05" y="525" width="1.1" height="2.1" fill="#000"/>
<text x="154.6" y="534.1" font-size="6.8" text-anchor="middle" fill="#222" font-weight="normal" textLength="3.3" lengthAdjust="spacingAndGlyphs" stroke="#222" stroke-width="0.15">6</text>
<text x="83.6" y="546.9" font-size="10.5" text-anchor="start" fill="#222" font-weight="normal" textLength="27.3" lengthAdjust="spacingAndGlyphs">Time [d]</text>
<text transform="translate(22.9 516.3) rotate(-90)" font-size="8.3" fill="#222" stroke="#222" stroke-width="0.12" textLength="72.5" lengthAdjust="spacingAndGlyphs">Normalized cell count</text>
<text x="82.15" y="442.5" font-size="10" text-anchor="start" fill="#2a2a2a" font-weight="normal" textLength="40.75" lengthAdjust="spacingAndGlyphs">OCI-Ly10</text>
<rect x="194.75" y="469.8" width="6" height="54.7" fill="#c8102e"/>
<rect x="194.75" y="469.8" width="6" height="0.7" fill="#a60d25"/>
<rect x="202.85" y="469.8" width="6" height="54.7" fill="#c8102e"/>
<rect x="202.85" y="469.8" width="6" height="0.7" fill="#a60d25"/>
<rect x="205.3" y="465.46" width="1.1" height="4.34" fill="#000"/>
<rect x="204.35" y="465.16" width="3" height="1.1" fill="#000"/>
<rect x="210.95" y="469.8" width="6" height="54.7" fill="#c8102e"/>
<rect x="210.95" y="469.8" width="6" height="0.7" fill="#a60d25"/>
<rect x="213.4" y="469.26" width="1.1" height="0.54" fill="#000"/>
<rect x="212.45" y="468.96" width="3" height="1.1" fill="#000"/>
<rect x="219.05" y="469.8" width="6" height="54.7" fill="#c8102e"/>
<rect x="219.05" y="469.8" width="6" height="0.7" fill="#a60d25"/>
<rect x="221.5" y="469.26" width="1.1" height="0.54" fill="#000"/>
<rect x="220.55" y="468.96" width="3" height="1.1" fill="#000"/>
<rect x="227.15" y="469.8" width="6" height="54.7" fill="#c8102e"/>
<rect x="227.15" y="469.8" width="6" height="0.7" fill="#a60d25"/>
<rect x="229.6" y="467.09" width="1.1" height="2.71" fill="#000"/>
<rect x="228.65" y="466.79" width="3" height="1.1" fill="#000"/>
<rect x="235.25" y="469.8" width="6" height="54.7" fill="#c8102e"/>
<rect x="235.25" y="469.8" width="6" height="0.7" fill="#a60d25"/>
<rect x="243.35" y="469.8" width="6" height="54.7" fill="#c8102e"/>
<rect x="243.35" y="469.8" width="6" height="0.7" fill="#a60d25"/>
<rect x="245.8" y="466" width="1.1" height="3.8" fill="#000"/>
<rect x="244.85" y="465.7" width="3" height="1.1" fill="#000"/>
<rect x="255.9" y="469.8" width="6" height="54.7" fill="#144f85"/>
<rect x="255.9" y="469.8" width="6" height="0.7" fill="#0f3f69"/>
<rect x="264" y="474.57" width="6" height="49.93" fill="#144f85"/>
<rect x="264" y="474.57" width="6" height="0.7" fill="#0f3f69"/>
<rect x="266.45" y="474.03" width="1.1" height="0.54" fill="#000"/>
<rect x="265.5" y="473.73" width="3" height="1.1" fill="#000"/>
<rect x="272.1" y="493.56" width="6" height="30.94" fill="#144f85"/>
<rect x="272.1" y="493.56" width="6" height="0.7" fill="#0f3f69"/>
<rect x="274.55" y="493.02" width="1.1" height="0.54" fill="#000"/>
<rect x="273.6" y="492.72" width="3" height="1.1" fill="#000"/>
<rect x="280.2" y="508.75" width="6" height="15.75" fill="#144f85"/>
<rect x="280.2" y="508.75" width="6" height="0.7" fill="#0f3f69"/>
<rect x="282.65" y="508.48" width="1.1" height="0.27" fill="#000"/>
<rect x="281.7" y="508.18" width="3" height="1.1" fill="#000"/>
<rect x="288.3" y="517" width="6" height="7.5" fill="#144f85"/>
<rect x="288.3" y="517" width="6" height="0.7" fill="#0f3f69"/>
<rect x="290.75" y="516.45" width="1.1" height="0.54" fill="#000"/>
<rect x="289.8" y="516.15" width="3" height="1.1" fill="#000"/>
<rect x="296.4" y="521.23" width="6" height="3.27" fill="#144f85"/>
<rect x="296.4" y="521.23" width="6" height="0.7" fill="#0f3f69"/>
<rect x="298.85" y="520.96" width="1.1" height="0.27" fill="#000"/>
<rect x="297.9" y="520.66" width="3" height="1.1" fill="#000"/>
<rect x="304.5" y="521.23" width="6" height="3.27" fill="#144f85"/>
<rect x="304.5" y="521.23" width="6" height="0.7" fill="#0f3f69"/>
<rect x="306.95" y="520.96" width="1.1" height="0.27" fill="#000"/>
<rect x="306" y="520.66" width="3" height="1.1" fill="#000"/>
<rect x="190.95" y="442.62" width="1.1" height="82.38" fill="#111"/>
<rect x="189" y="524" width="124.7" height="1.0" fill="#111"/>
<rect x="189" y="523.95" width="2.5" height="1.1" fill="#000"/>
<text x="187.6" y="527.2" font-size="7.9" text-anchor="end" fill="#2a2a2a" font-weight="normal" textLength="9.8" lengthAdjust="spacingAndGlyphs">0.0</text>
<rect x="189" y="496.82" width="2.5" height="1.1" fill="#000"/>
<text x="187.6" y="500.07" font-size="7.9" text-anchor="end" fill="#2a2a2a" font-weight="normal" textLength="9.8" lengthAdjust="spacingAndGlyphs">0.5</text>
<rect x="189" y="469.7" width="2.5" height="1.1" fill="#000"/>
<text x="187.6" y="472.95" font-size="7.9" text-anchor="end" fill="#2a2a2a" font-weight="normal" textLength="9.8" lengthAdjust="spacingAndGlyphs">1.0</text>
<rect x="189" y="442.57" width="2.5" height="1.1" fill="#000"/>
<text x="187.6" y="445.82" font-size="7.9" text-anchor="end" fill="#2a2a2a" font-weight="normal" textLength="9.8" lengthAdjust="spacingAndGlyphs">1.5</text>
<rect x="197.2" y="525" width="1.1" height="2.1" fill="#000"/>
<text x="197.75" y="534.1" font-size="6.8" text-anchor="middle" fill="#222" font-weight="normal" textLength="3.3" lengthAdjust="spacingAndGlyphs" stroke="#222" stroke-width="0.15">0</text>
<rect x="205.3" y="525" width="1.1" height="2.1" fill="#000"/>
<text x="205.85" y="534.1" font-size="6.8" text-anchor="middle" fill="#222" font-weight="normal" textLength="3.3" lengthAdjust="spacingAndGlyphs" stroke="#222" stroke-width="0.15">1</text>
<rect x="213.4" y="525" width="1.1" height="2.1" fill="#000"/>
<text x="213.95" y="534.1" font-size="6.8" text-anchor="middle" fill="#222" font-weight="normal" textLength="3.3" lengthAdjust="spacingAndGlyphs" stroke="#222" stroke-width="0.15">2</text>
<rect x="221.5" y="525" width="1.1" height="2.1" fill="#000"/>
<text x="222.05" y="534.1" font-size="6.8" text-anchor="middle" fill="#222" font-weight="normal" textLength="3.3" lengthAdjust="spacingAndGlyphs" stroke="#222" stroke-width="0.15">3</text>
<rect x="229.6" y="525" width="1.1" height="2.1" fill="#000"/>
<text x="230.15" y="534.1" font-size="6.8" text-anchor="middle" fill="#222" font-weight="normal" textLength="3.3" lengthAdjust="spacingAndGlyphs" stroke="#222" stroke-width="0.15">4</text>
<rect x="237.7" y="525" width="1.1" height="2.1" fill="#000"/>
<text x="238.25" y="534.1" font-size="6.8" text-anchor="middle" fill="#222" font-weight="normal" textLength="3.3" lengthAdjust="spacingAndGlyphs" stroke="#222" stroke-width="0.15">5</text>
<rect x="245.8" y="525" width="1.1" height="2.1" fill="#000"/>
<text x="246.35" y="534.1" font-size="6.8" text-anchor="middle" fill="#222" font-weight="normal" textLength="3.3" lengthAdjust="spacingAndGlyphs" stroke="#222" stroke-width="0.15">6</text>
<rect x="258.35" y="525" width="1.1" height="2.1" fill="#000"/>
<text x="258.9" y="534.1" font-size="6.8" text-anchor="middle" fill="#222" font-weight="normal" textLength="3.3" lengthAdjust="spacingAndGlyphs" stroke="#222" stroke-width="0.15">0</text>
<rect x="266.45" y="525" width="1.1" height="2.1" fill="#000"/>
<text x="267" y="534.1" font-size="6.8" text-anchor="middle" fill="#222" font-weight="normal" textLength="3.3" lengthAdjust="spacingAndGlyphs" stroke="#222" stroke-width="0.15">1</text>
<rect x="274.55" y="525" width="1.1" height="2.1" fill="#000"/>
<text x="275.1" y="534.1" font-size="6.8" text-anchor="middle" fill="#222" font-weight="normal" textLength="3.3" lengthAdjust="spacingAndGlyphs" stroke="#222" stroke-width="0.15">2</text>
<rect x="282.65" y="525" width="1.1" height="2.1" fill="#000"/>
<text x="283.2" y="534.1" font-size="6.8" text-anchor="middle" fill="#222" font-weight="normal" textLength="3.3" lengthAdjust="spacingAndGlyphs" stroke="#222" stroke-width="0.15">3</text>
<rect x="290.75" y="525" width="1.1" height="2.1" fill="#000"/>
<text x="291.3" y="534.1" font-size="6.8" text-anchor="middle" fill="#222" font-weight="normal" textLength="3.3" lengthAdjust="spacingAndGlyphs" stroke="#222" stroke-width="0.15">4</text>
<rect x="298.85" y="525" width="1.1" height="2.1" fill="#000"/>
<text x="299.4" y="534.1" font-size="6.8" text-anchor="middle" fill="#222" font-weight="normal" textLength="3.3" lengthAdjust="spacingAndGlyphs" stroke="#222" stroke-width="0.15">5</text>
<rect x="306.95" y="525" width="1.1" height="2.1" fill="#000"/>
<text x="307.5" y="534.1" font-size="6.8" text-anchor="middle" fill="#222" font-weight="normal" textLength="3.3" lengthAdjust="spacingAndGlyphs" stroke="#222" stroke-width="0.15">6</text>
<text x="236.5" y="546.9" font-size="10.5" text-anchor="start" fill="#222" font-weight="normal" textLength="27.3" lengthAdjust="spacingAndGlyphs">Time [d]</text>
<text transform="translate(175.8 516.3) rotate(-90)" font-size="8.3" fill="#222" stroke="#222" stroke-width="0.12" textLength="72.5" lengthAdjust="spacingAndGlyphs">Normalized cell count</text>
<text x="241.3" y="442.5" font-size="10" text-anchor="start" fill="#2a2a2a" font-weight="normal" textLength="28.1" lengthAdjust="spacingAndGlyphs">U2932</text>
<rect x="347.35" y="469.8" width="6" height="54.7" fill="#c8102e"/>
<rect x="347.35" y="469.8" width="6" height="0.7" fill="#a60d25"/>
<rect x="355.45" y="469.8" width="6" height="54.7" fill="#c8102e"/>
<rect x="355.45" y="469.8" width="6" height="0.7" fill="#a60d25"/>
<rect x="357.9" y="465.46" width="1.1" height="4.34" fill="#000"/>
<rect x="356.95" y="465.16" width="3" height="1.1" fill="#000"/>
<rect x="363.55" y="469.8" width="6" height="54.7" fill="#c8102e"/>
<rect x="363.55" y="469.8" width="6" height="0.7" fill="#a60d25"/>
<rect x="366" y="466" width="1.1" height="3.8" fill="#000"/>
<rect x="365.05" y="465.7" width="3" height="1.1" fill="#000"/>
<rect x="371.65" y="469.8" width="6" height="54.7" fill="#c8102e"/>
<rect x="371.65" y="469.8" width="6" height="0.7" fill="#a60d25"/>
<rect x="374.1" y="466.55" width="1.1" height="3.25" fill="#000"/>
<rect x="373.15" y="466.25" width="3" height="1.1" fill="#000"/>
<rect x="379.75" y="469.8" width="6" height="54.7" fill="#c8102e"/>
<rect x="379.75" y="469.8" width="6" height="0.7" fill="#a60d25"/>
<rect x="382.2" y="466.55" width="1.1" height="3.25" fill="#000"/>
<rect x="381.25" y="466.25" width="3" height="1.1" fill="#000"/>
<rect x="387.85" y="469.8" width="6" height="54.7" fill="#c8102e"/>
<rect x="387.85" y="469.8" width="6" height="0.7" fill="#a60d25"/>
<rect x="390.3" y="467.63" width="1.1" height="2.17" fill="#000"/>
<rect x="389.35" y="467.33" width="3" height="1.1" fill="#000"/>
<rect x="395.95" y="469.8" width="6" height="54.7" fill="#c8102e"/>
<rect x="395.95" y="469.8" width="6" height="0.7" fill="#a60d25"/>
<rect x="398.4" y="465.46" width="1.1" height="4.34" fill="#000"/>
<rect x="397.45" y="465.16" width="3" height="1.1" fill="#000"/>
<rect x="408.5" y="469.8" width="6" height="54.7" fill="#144f85"/>
<rect x="408.5" y="469.8" width="6" height="0.7" fill="#0f3f69"/>
<rect x="416.6" y="506.26" width="6" height="18.24" fill="#144f85"/>
<rect x="416.6" y="506.26" width="6" height="0.7" fill="#0f3f69"/>
<rect x="419.05" y="505.71" width="1.1" height="0.54" fill="#000"/>
<rect x="418.1" y="505.41" width="3" height="1.1" fill="#000"/>
<rect x="424.7" y="509.29" width="6" height="15.21" fill="#144f85"/>
<rect x="424.7" y="509.29" width="6" height="0.7" fill="#0f3f69"/>
<rect x="427.15" y="508.75" width="1.1" height="0.54" fill="#000"/>
<rect x="426.2" y="508.45" width="3" height="1.1" fill="#000"/>
<rect x="432.8" y="506.04" width="6" height="18.46" fill="#144f85"/>
<rect x="432.8" y="506.04" width="6" height="0.7" fill="#0f3f69"/>
<rect x="435.25" y="505.5" width="1.1" height="0.54" fill="#000"/>
<rect x="434.3" y="505.2" width="3" height="1.1" fill="#000"/>
<rect x="440.9" y="512.55" width="6" height="11.95" fill="#144f85"/>
<rect x="440.9" y="512.55" width="6" height="0.7" fill="#0f3f69"/>
<rect x="443.35" y="510.92" width="1.1" height="1.63" fill="#000"/>
<rect x="442.4" y="510.62" width="3" height="1.1" fill="#000"/>
<rect x="449" y="518.73" width="6" height="5.77" fill="#144f85"/>
<rect x="449" y="518.73" width="6" height="0.7" fill="#0f3f69"/>
<rect x="451.45" y="518.46" width="1.1" height="0.27" fill="#000"/>
<rect x="450.5" y="518.16" width="3" height="1.1" fill="#000"/>
<rect x="457.1" y="521.01" width="6" height="3.49" fill="#144f85"/>
<rect x="457.1" y="521.01" width="6" height="0.7" fill="#0f3f69"/>
<rect x="459.55" y="520.74" width="1.1" height="0.27" fill="#000"/>
<rect x="458.6" y="520.44" width="3" height="1.1" fill="#000"/>
<rect x="343.55" y="442.62" width="1.1" height="82.38" fill="#111"/>
<rect x="341.6" y="524" width="124.7" height="1.0" fill="#111"/>
<rect x="341.6" y="523.95" width="2.5" height="1.1" fill="#000"/>
<text x="340.2" y="527.2" font-size="7.9" text-anchor="end" fill="#2a2a2a" font-weight="normal" textLength="9.8" lengthAdjust="spacingAndGlyphs">0.0</text>
<rect x="341.6" y="496.82" width="2.5" height="1.1" fill="#000"/>
<text x="340.2" y="500.07" font-size="7.9" text-anchor="end" fill="#2a2a2a" font-weight="normal" textLength="9.8" lengthAdjust="spacingAndGlyphs">0.5</text>
<rect x="341.6" y="469.7" width="2.5" height="1.1" fill="#000"/>
<text x="340.2" y="472.95" font-size="7.9" text-anchor="end" fill="#2a2a2a" font-weight="normal" textLength="9.8" lengthAdjust="spacingAndGlyphs">1.0</text>
<rect x="341.6" y="442.57" width="2.5" height="1.1" fill="#000"/>
<text x="340.2" y="445.82" font-size="7.9" text-anchor="end" fill="#2a2a2a" font-weight="normal" textLength="9.8" lengthAdjust="spacingAndGlyphs">1.5</text>
<rect x="349.8" y="525" width="1.1" height="2.1" fill="#000"/>
<text x="350.35" y="534.1" font-size="6.8" text-anchor="middle" fill="#222" font-weight="normal" textLength="3.3" lengthAdjust="spacingAndGlyphs" stroke="#222" stroke-width="0.15">0</text>
<rect x="357.9" y="525" width="1.1" height="2.1" fill="#000"/>
<text x="358.45" y="534.1" font-size="6.8" text-anchor="middle" fill="#222" font-weight="normal" textLength="3.3" lengthAdjust="spacingAndGlyphs" stroke="#222" stroke-width="0.15">1</text>
<rect x="366" y="525" width="1.1" height="2.1" fill="#000"/>
<text x="366.55" y="534.1" font-size="6.8" text-anchor="middle" fill="#222" font-weight="normal" textLength="3.3" lengthAdjust="spacingAndGlyphs" stroke="#222" stroke-width="0.15">2</text>
<rect x="374.1" y="525" width="1.1" height="2.1" fill="#000"/>
<text x="374.65" y="534.1" font-size="6.8" text-anchor="middle" fill="#222" font-weight="normal" textLength="3.3" lengthAdjust="spacingAndGlyphs" stroke="#222" stroke-width="0.15">3</text>
<rect x="382.2" y="525" width="1.1" height="2.1" fill="#000"/>
<text x="382.75" y="534.1" font-size="6.8" text-anchor="middle" fill="#222" font-weight="normal" textLength="3.3" lengthAdjust="spacingAndGlyphs" stroke="#222" stroke-width="0.15">4</text>
<rect x="390.3" y="525" width="1.1" height="2.1" fill="#000"/>
<text x="390.85" y="534.1" font-size="6.8" text-anchor="middle" fill="#222" font-weight="normal" textLength="3.3" lengthAdjust="spacingAndGlyphs" stroke="#222" stroke-width="0.15">5</text>
<rect x="398.4" y="525" width="1.1" height="2.1" fill="#000"/>
<text x="398.95" y="534.1" font-size="6.8" text-anchor="middle" fill="#222" font-weight="normal" textLength="3.3" lengthAdjust="spacingAndGlyphs" stroke="#222" stroke-width="0.15">6</text>
<rect x="410.95" y="525" width="1.1" height="2.1" fill="#000"/>
<text x="411.5" y="534.1" font-size="6.8" text-anchor="middle" fill="#222" font-weight="normal" textLength="3.3" lengthAdjust="spacingAndGlyphs" stroke="#222" stroke-width="0.15">0</text>
<rect x="419.05" y="525" width="1.1" height="2.1" fill="#000"/>
<text x="419.6" y="534.1" font-size="6.8" text-anchor="middle" fill="#222" font-weight="normal" textLength="3.3" lengthAdjust="spacingAndGlyphs" stroke="#222" stroke-width="0.15">1</text>
<rect x="427.15" y="525" width="1.1" height="2.1" fill="#000"/>
<text x="427.7" y="534.1" font-size="6.8" text-anchor="middle" fill="#222" font-weight="normal" textLength="3.3" lengthAdjust="spacingAndGlyphs" stroke="#222" stroke-width="0.15">2</text>
<rect x="435.25" y="525" width="1.1" height="2.1" fill="#000"/>
<text x="435.8" y="534.1" font-size="6.8" text-anchor="middle" fill="#222" font-weight="normal" textLength="3.3" lengthAdjust="spacingAndGlyphs" stroke="#222" stroke-width="0.15">3</text>
<rect x="443.35" y="525" width="1.1" height="2.1" fill="#000"/>
<text x="443.9" y="534.1" font-size="6.8" text-anchor="middle" fill="#222" font-weight="normal" textLength="3.3" lengthAdjust="spacingAndGlyphs" stroke="#222" stroke-width="0.15">4</text>
<rect x="451.45" y="525" width="1.1" height="2.1" fill="#000"/>
<text x="452" y="534.1" font-size="6.8" text-anchor="middle" fill="#222" font-weight="normal" textLength="3.3" lengthAdjust="spacingAndGlyphs" stroke="#222" stroke-width="0.15">5</text>
<rect x="459.55" y="525" width="1.1" height="2.1" fill="#000"/>
<text x="460.1" y="534.1" font-size="6.8" text-anchor="middle" fill="#222" font-weight="normal" textLength="3.3" lengthAdjust="spacingAndGlyphs" stroke="#222" stroke-width="0.15">6</text>
<text x="389.1" y="546.9" font-size="10.5" text-anchor="start" fill="#222" font-weight="normal" textLength="27.3" lengthAdjust="spacingAndGlyphs">Time [d]</text>
<text transform="translate(328.4 516.3) rotate(-90)" font-size="8.3" fill="#222" stroke="#222" stroke-width="0.12" textLength="72.5" lengthAdjust="spacingAndGlyphs">Normalized cell count</text>
<text x="390" y="442.5" font-size="10" text-anchor="start" fill="#2a2a2a" font-weight="normal" textLength="35.4" lengthAdjust="spacingAndGlyphs">OCI-Ly3</text>
<rect x="41.85" y="624.8" width="6" height="54.7" fill="#c8102e"/>
<rect x="41.85" y="624.8" width="6" height="0.7" fill="#a60d25"/>
<rect x="49.95" y="624.8" width="6" height="54.7" fill="#c8102e"/>
<rect x="49.95" y="624.8" width="6" height="0.7" fill="#a60d25"/>
<rect x="52.4" y="622.09" width="1.1" height="2.71" fill="#000"/>
<rect x="51.45" y="621.79" width="3" height="1.1" fill="#000"/>
<rect x="58.05" y="624.8" width="6" height="54.7" fill="#c8102e"/>
<rect x="58.05" y="624.8" width="6" height="0.7" fill="#a60d25"/>
<rect x="60.5" y="623.17" width="1.1" height="1.63" fill="#000"/>
<rect x="59.55" y="622.87" width="3" height="1.1" fill="#000"/>
<rect x="66.15" y="624.8" width="6" height="54.7" fill="#c8102e"/>
<rect x="66.15" y="624.8" width="6" height="0.7" fill="#a60d25"/>
<rect x="68.6" y="624.26" width="1.1" height="0.54" fill="#000"/>
<rect x="67.65" y="623.96" width="3" height="1.1" fill="#000"/>
<rect x="74.25" y="624.8" width="6" height="54.7" fill="#c8102e"/>
<rect x="74.25" y="624.8" width="6" height="0.7" fill="#a60d25"/>
<rect x="76.7" y="621.54" width="1.1" height="3.25" fill="#000"/>
<rect x="75.75" y="621.25" width="3" height="1.1" fill="#000"/>
<rect x="82.35" y="624.8" width="6" height="54.7" fill="#c8102e"/>
<rect x="82.35" y="624.8" width="6" height="0.7" fill="#a60d25"/>
<rect x="90.45" y="624.8" width="6" height="54.7" fill="#c8102e"/>
<rect x="90.45" y="624.8" width="6" height="0.7" fill="#a60d25"/>
<rect x="92.9" y="623.71" width="1.1" height="1.08" fill="#000"/>
<rect x="91.95" y="623.41" width="3" height="1.1" fill="#000"/>
<rect x="103" y="624.8" width="6" height="54.7" fill="#144f85"/>
<rect x="103" y="624.8" width="6" height="0.7" fill="#0f3f69"/>
<rect x="111.1" y="624.69" width="6" height="54.81" fill="#144f85"/>
<rect x="111.1" y="624.69" width="6" height="0.7" fill="#0f3f69"/>
<rect x="113.55" y="621.44" width="1.1" height="3.25" fill="#000"/>
<rect x="112.6" y="621.14" width="3" height="1.1" fill="#000"/>
<rect x="119.2" y="626.97" width="6" height="52.53" fill="#144f85"/>
<rect x="119.2" y="626.97" width="6" height="0.7" fill="#0f3f69"/>
<rect x="121.65" y="626.43" width="1.1" height="0.54" fill="#000"/>
<rect x="120.7" y="626.13" width="3" height="1.1" fill="#000"/>
<rect x="127.3" y="630.01" width="6" height="49.49" fill="#144f85"/>
<rect x="127.3" y="630.01" width="6" height="0.7" fill="#0f3f69"/>
<rect x="129.75" y="628.38" width="1.1" height="1.63" fill="#000"/>
<rect x="128.8" y="628.08" width="3" height="1.1" fill="#000"/>
<rect x="135.4" y="625.99" width="6" height="53.51" fill="#144f85"/>
<rect x="135.4" y="625.99" width="6" height="0.7" fill="#0f3f69"/>
<rect x="137.85" y="623.28" width="1.1" height="2.71" fill="#000"/>
<rect x="136.9" y="622.98" width="3" height="1.1" fill="#000"/>
<rect x="143.5" y="628.22" width="6" height="51.28" fill="#144f85"/>
<rect x="143.5" y="628.22" width="6" height="0.7" fill="#0f3f69"/>
<rect x="145.95" y="627.13" width="1.1" height="1.08" fill="#000"/>
<rect x="145" y="626.83" width="3" height="1.1" fill="#000"/>
<rect x="151.6" y="625.23" width="6" height="54.27" fill="#144f85"/>
<rect x="151.6" y="625.23" width="6" height="0.7" fill="#0f3f69"/>
<rect x="154.05" y="624.15" width="1.1" height="1.08" fill="#000"/>
<rect x="153.1" y="623.85" width="3" height="1.1" fill="#000"/>
<rect x="38.05" y="597.62" width="1.1" height="82.38" fill="#111"/>
<rect x="36.1" y="679" width="124.7" height="1.0" fill="#111"/>
<rect x="36.1" y="678.95" width="2.5" height="1.1" fill="#000"/>
<text x="34.7" y="682.2" font-size="7.9" text-anchor="end" fill="#2a2a2a" font-weight="normal" textLength="9.8" lengthAdjust="spacingAndGlyphs">0.0</text>
<rect x="36.1" y="651.83" width="2.5" height="1.1" fill="#000"/>
<text x="34.7" y="655.08" font-size="7.9" text-anchor="end" fill="#2a2a2a" font-weight="normal" textLength="9.8" lengthAdjust="spacingAndGlyphs">0.5</text>
<rect x="36.1" y="624.7" width="2.5" height="1.1" fill="#000"/>
<text x="34.7" y="627.95" font-size="7.9" text-anchor="end" fill="#2a2a2a" font-weight="normal" textLength="9.8" lengthAdjust="spacingAndGlyphs">1.0</text>
<rect x="36.1" y="597.58" width="2.5" height="1.1" fill="#000"/>
<text x="34.7" y="600.83" font-size="7.9" text-anchor="end" fill="#2a2a2a" font-weight="normal" textLength="9.8" lengthAdjust="spacingAndGlyphs">1.5</text>
<rect x="44.3" y="680" width="1.1" height="2.1" fill="#000"/>
<text x="44.85" y="689.1" font-size="6.8" text-anchor="middle" fill="#222" font-weight="normal" textLength="3.3" lengthAdjust="spacingAndGlyphs" stroke="#222" stroke-width="0.15">0</text>
<rect x="52.4" y="680" width="1.1" height="2.1" fill="#000"/>
<text x="52.95" y="689.1" font-size="6.8" text-anchor="middle" fill="#222" font-weight="normal" textLength="3.3" lengthAdjust="spacingAndGlyphs" stroke="#222" stroke-width="0.15">1</text>
<rect x="60.5" y="680" width="1.1" height="2.1" fill="#000"/>
<text x="61.05" y="689.1" font-size="6.8" text-anchor="middle" fill="#222" font-weight="normal" textLength="3.3" lengthAdjust="spacingAndGlyphs" stroke="#222" stroke-width="0.15">2</text>
<rect x="68.6" y="680" width="1.1" height="2.1" fill="#000"/>
<text x="69.15" y="689.1" font-size="6.8" text-anchor="middle" fill="#222" font-weight="normal" textLength="3.3" lengthAdjust="spacingAndGlyphs" stroke="#222" stroke-width="0.15">3</text>
<rect x="76.7" y="680" width="1.1" height="2.1" fill="#000"/>
<text x="77.25" y="689.1" font-size="6.8" text-anchor="middle" fill="#222" font-weight="normal" textLength="3.3" lengthAdjust="spacingAndGlyphs" stroke="#222" stroke-width="0.15">4</text>
<rect x="84.8" y="680" width="1.1" height="2.1" fill="#000"/>
<text x="85.35" y="689.1" font-size="6.8" text-anchor="middle" fill="#222" font-weight="normal" textLength="3.3" lengthAdjust="spacingAndGlyphs" stroke="#222" stroke-width="0.15">5</text>
<rect x="92.9" y="680" width="1.1" height="2.1" fill="#000"/>
<text x="93.45" y="689.1" font-size="6.8" text-anchor="middle" fill="#222" font-weight="normal" textLength="3.3" lengthAdjust="spacingAndGlyphs" stroke="#222" stroke-width="0.15">6</text>
<rect x="105.45" y="680" width="1.1" height="2.1" fill="#000"/>
<text x="106" y="689.1" font-size="6.8" text-anchor="middle" fill="#222" font-weight="normal" textLength="3.3" lengthAdjust="spacingAndGlyphs" stroke="#222" stroke-width="0.15">0</text>
<rect x="113.55" y="680" width="1.1" height="2.1" fill="#000"/>
<text x="114.1" y="689.1" font-size="6.8" text-anchor="middle" fill="#222" font-weight="normal" textLength="3.3" lengthAdjust="spacingAndGlyphs" stroke="#222" stroke-width="0.15">1</text>
<rect x="121.65" y="680" width="1.1" height="2.1" fill="#000"/>
<text x="122.2" y="689.1" font-size="6.8" text-anchor="middle" fill="#222" font-weight="normal" textLength="3.3" lengthAdjust="spacingAndGlyphs" stroke="#222" stroke-width="0.15">2</text>
<rect x="129.75" y="680" width="1.1" height="2.1" fill="#000"/>
<text x="130.3" y="689.1" font-size="6.8" text-anchor="middle" fill="#222" font-weight="normal" textLength="3.3" lengthAdjust="spacingAndGlyphs" stroke="#222" stroke-width="0.15">3</text>
<rect x="137.85" y="680" width="1.1" height="2.1" fill="#000"/>
<text x="138.4" y="689.1" font-size="6.8" text-anchor="middle" fill="#222" font-weight="normal" textLength="3.3" lengthAdjust="spacingAndGlyphs" stroke="#222" stroke-width="0.15">4</text>
<rect x="145.95" y="680" width="1.1" height="2.1" fill="#000"/>
<text x="146.5" y="689.1" font-size="6.8" text-anchor="middle" fill="#222" font-weight="normal" textLength="3.3" lengthAdjust="spacingAndGlyphs" stroke="#222" stroke-width="0.15">5</text>
<rect x="154.05" y="680" width="1.1" height="2.1" fill="#000"/>
<text x="154.6" y="689.1" font-size="6.8" text-anchor="middle" fill="#222" font-weight="normal" textLength="3.3" lengthAdjust="spacingAndGlyphs" stroke="#222" stroke-width="0.15">6</text>
<text x="83.6" y="701.9" font-size="10.5" text-anchor="start" fill="#222" font-weight="normal" textLength="27.3" lengthAdjust="spacingAndGlyphs">Time [d]</text>
<text transform="translate(22.9 671.3) rotate(-90)" font-size="8.3" fill="#222" stroke="#222" stroke-width="0.12" textLength="72.5" lengthAdjust="spacingAndGlyphs">Normalized cell count</text>
<text x="90" y="597.75" font-size="10" text-anchor="start" fill="#2a2a2a" font-weight="normal" textLength="22.5" lengthAdjust="spacingAndGlyphs">K562</text>
<rect x="194.75" y="624.8" width="6" height="54.7" fill="#c8102e"/>
<rect x="194.75" y="624.8" width="6" height="0.7" fill="#a60d25"/>
<rect x="202.85" y="624.8" width="6" height="54.7" fill="#c8102e"/>
<rect x="202.85" y="624.8" width="6" height="0.7" fill="#a60d25"/>
<rect x="205.3" y="621" width="1.1" height="3.8" fill="#000"/>
<rect x="204.35" y="620.7" width="3" height="1.1" fill="#000"/>
<rect x="210.95" y="624.8" width="6" height="54.7" fill="#c8102e"/>
<rect x="210.95" y="624.8" width="6" height="0.7" fill="#a60d25"/>
<rect x="213.4" y="623.71" width="1.1" height="1.08" fill="#000"/>
<rect x="212.45" y="623.41" width="3" height="1.1" fill="#000"/>
<rect x="219.05" y="624.8" width="6" height="54.7" fill="#c8102e"/>
<rect x="219.05" y="624.8" width="6" height="0.7" fill="#a60d25"/>
<rect x="221.5" y="622.09" width="1.1" height="2.71" fill="#000"/>
<rect x="220.55" y="621.79" width="3" height="1.1" fill="#000"/>
<rect x="227.15" y="624.8" width="6" height="54.7" fill="#c8102e"/>
<rect x="227.15" y="624.8" width="6" height="0.7" fill="#a60d25"/>
<rect x="229.6" y="620.46" width="1.1" height="4.34" fill="#000"/>
<rect x="228.65" y="620.16" width="3" height="1.1" fill="#000"/>
<rect x="235.25" y="624.8" width="6" height="54.7" fill="#c8102e"/>
<rect x="235.25" y="624.8" width="6" height="0.7" fill="#a60d25"/>
<rect x="237.7" y="622.09" width="1.1" height="2.71" fill="#000"/>
<rect x="236.75" y="621.79" width="3" height="1.1" fill="#000"/>
<rect x="243.35" y="624.8" width="6" height="54.7" fill="#c8102e"/>
<rect x="243.35" y="624.8" width="6" height="0.7" fill="#a60d25"/>
<rect x="245.8" y="623.17" width="1.1" height="1.63" fill="#000"/>
<rect x="244.85" y="622.87" width="3" height="1.1" fill="#000"/>
<rect x="255.9" y="624.8" width="6" height="54.7" fill="#144f85"/>
<rect x="255.9" y="624.8" width="6" height="0.7" fill="#0f3f69"/>
<rect x="264" y="626.97" width="6" height="52.53" fill="#144f85"/>
<rect x="264" y="626.97" width="6" height="0.7" fill="#0f3f69"/>
<rect x="266.45" y="625.34" width="1.1" height="1.63" fill="#000"/>
<rect x="265.5" y="625.04" width="3" height="1.1" fill="#000"/>
<rect x="272.1" y="619.27" width="6" height="60.23" fill="#144f85"/>
<rect x="272.1" y="619.27" width="6" height="0.7" fill="#0f3f69"/>
<rect x="274.55" y="618.18" width="1.1" height="1.08" fill="#000"/>
<rect x="273.6" y="617.88" width="3" height="1.1" fill="#000"/>
<rect x="280.2" y="615.47" width="6" height="64.03" fill="#144f85"/>
<rect x="280.2" y="615.47" width="6" height="0.7" fill="#0f3f69"/>
<rect x="282.65" y="613.84" width="1.1" height="1.63" fill="#000"/>
<rect x="281.7" y="613.54" width="3" height="1.1" fill="#000"/>
<rect x="288.3" y="621.22" width="6" height="58.28" fill="#144f85"/>
<rect x="288.3" y="621.22" width="6" height="0.7" fill="#0f3f69"/>
<rect x="290.75" y="619.05" width="1.1" height="2.17" fill="#000"/>
<rect x="289.8" y="618.75" width="3" height="1.1" fill="#000"/>
<rect x="296.4" y="624.96" width="6" height="54.54" fill="#144f85"/>
<rect x="296.4" y="624.96" width="6" height="0.7" fill="#0f3f69"/>
<rect x="298.85" y="622.25" width="1.1" height="2.71" fill="#000"/>
<rect x="297.9" y="621.95" width="3" height="1.1" fill="#000"/>
<rect x="304.5" y="622.74" width="6" height="56.76" fill="#144f85"/>
<rect x="304.5" y="622.74" width="6" height="0.7" fill="#0f3f69"/>
<rect x="306.95" y="621.65" width="1.1" height="1.08" fill="#000"/>
<rect x="306" y="621.35" width="3" height="1.1" fill="#000"/>
<rect x="190.95" y="597.62" width="1.1" height="82.38" fill="#111"/>
<rect x="189" y="679" width="124.7" height="1.0" fill="#111"/>
<rect x="189" y="678.95" width="2.5" height="1.1" fill="#000"/>
<text x="187.6" y="682.2" font-size="7.9" text-anchor="end" fill="#2a2a2a" font-weight="normal" textLength="9.8" lengthAdjust="spacingAndGlyphs">0.0</text>
<rect x="189" y="651.83" width="2.5" height="1.1" fill="#000"/>
<text x="187.6" y="655.08" font-size="7.9" text-anchor="end" fill="#2a2a2a" font-weight="normal" textLength="9.8" lengthAdjust="spacingAndGlyphs">0.5</text>
<rect x="189" y="624.7" width="2.5" height="1.1" fill="#000"/>
<text x="187.6" y="627.95" font-size="7.9" text-anchor="end" fill="#2a2a2a" font-weight="normal" textLength="9.8" lengthAdjust="spacingAndGlyphs">1.0</text>
<rect x="189" y="597.58" width="2.5" height="1.1" fill="#000"/>
<text x="187.6" y="600.83" font-size="7.9" text-anchor="end" fill="#2a2a2a" font-weight="normal" textLength="9.8" lengthAdjust="spacingAndGlyphs">1.5</text>
<rect x="197.2" y="680" width="1.1" height="2.1" fill="#000"/>
<text x="197.75" y="689.1" font-size="6.8" text-anchor="middle" fill="#222" font-weight="normal" textLength="3.3" lengthAdjust="spacingAndGlyphs" stroke="#222" stroke-width="0.15">0</text>
<rect x="205.3" y="680" width="1.1" height="2.1" fill="#000"/>
<text x="205.85" y="689.1" font-size="6.8" text-anchor="middle" fill="#222" font-weight="normal" textLength="3.3" lengthAdjust="spacingAndGlyphs" stroke="#222" stroke-width="0.15">1</text>
<rect x="213.4" y="680" width="1.1" height="2.1" fill="#000"/>
<text x="213.95" y="689.1" font-size="6.8" text-anchor="middle" fill="#222" font-weight="normal" textLength="3.3" lengthAdjust="spacingAndGlyphs" stroke="#222" stroke-width="0.15">2</text>
<rect x="221.5" y="680" width="1.1" height="2.1" fill="#000"/>
<text x="222.05" y="689.1" font-size="6.8" text-anchor="middle" fill="#222" font-weight="normal" textLength="3.3" lengthAdjust="spacingAndGlyphs" stroke="#222" stroke-width="0.15">3</text>
<rect x="229.6" y="680" width="1.1" height="2.1" fill="#000"/>
<text x="230.15" y="689.1" font-size="6.8" text-anchor="middle" fill="#222" font-weight="normal" textLength="3.3" lengthAdjust="spacingAndGlyphs" stroke="#222" stroke-width="0.15">4</text>
<rect x="237.7" y="680" width="1.1" height="2.1" fill="#000"/>
<text x="238.25" y="689.1" font-size="6.8" text-anchor="middle" fill="#222" font-weight="normal" textLength="3.3" lengthAdjust="spacingAndGlyphs" stroke="#222" stroke-width="0.15">5</text>
<rect x="245.8" y="680" width="1.1" height="2.1" fill="#000"/>
<text x="246.35" y="689.1" font-size="6.8" text-anchor="middle" fill="#222" font-weight="normal" textLength="3.3" lengthAdjust="spacingAndGlyphs" stroke="#222" stroke-width="0.15">6</text>
<rect x="258.35" y="680" width="1.1" height="2.1" fill="#000"/>
<text x="258.9" y="689.1" font-size="6.8" text-anchor="middle" fill="#222" font-weight="normal" textLength="3.3" lengthAdjust="spacingAndGlyphs" stroke="#222" stroke-width="0.15">0</text>
<rect x="266.45" y="680" width="1.1" height="2.1" fill="#000"/>
<text x="267" y="689.1" font-size="6.8" text-anchor="middle" fill="#222" font-weight="normal" textLength="3.3" lengthAdjust="spacingAndGlyphs" stroke="#222" stroke-width="0.15">1</text>
<rect x="274.55" y="680" width="1.1" height="2.1" fill="#000"/>
<text x="275.1" y="689.1" font-size="6.8" text-anchor="middle" fill="#222" font-weight="normal" textLength="3.3" lengthAdjust="spacingAndGlyphs" stroke="#222" stroke-width="0.15">2</text>
<rect x="282.65" y="680" width="1.1" height="2.1" fill="#000"/>
<text x="283.2" y="689.1" font-size="6.8" text-anchor="middle" fill="#222" font-weight="normal" textLength="3.3" lengthAdjust="spacingAndGlyphs" stroke="#222" stroke-width="0.15">3</text>
<rect x="290.75" y="680" width="1.1" height="2.1" fill="#000"/>
<text x="291.3" y="689.1" font-size="6.8" text-anchor="middle" fill="#222" font-weight="normal" textLength="3.3" lengthAdjust="spacingAndGlyphs" stroke="#222" stroke-width="0.15">4</text>
<rect x="298.85" y="680" width="1.1" height="2.1" fill="#000"/>
<text x="299.4" y="689.1" font-size="6.8" text-anchor="middle" fill="#222" font-weight="normal" textLength="3.3" lengthAdjust="spacingAndGlyphs" stroke="#222" stroke-width="0.15">5</text>
<rect x="306.95" y="680" width="1.1" height="2.1" fill="#000"/>
<text x="307.5" y="689.1" font-size="6.8" text-anchor="middle" fill="#222" font-weight="normal" textLength="3.3" lengthAdjust="spacingAndGlyphs" stroke="#222" stroke-width="0.15">6</text>
<text x="236.5" y="701.9" font-size="10.5" text-anchor="start" fill="#222" font-weight="normal" textLength="27.3" lengthAdjust="spacingAndGlyphs">Time [d]</text>
<text transform="translate(175.8 671.3) rotate(-90)" font-size="8.3" fill="#222" stroke="#222" stroke-width="0.12" textLength="72.5" lengthAdjust="spacingAndGlyphs">Normalized cell count</text>
<text x="241.3" y="597.75" font-size="10" text-anchor="start" fill="#2a2a2a" font-weight="normal" textLength="24.75" lengthAdjust="spacingAndGlyphs">THP-1</text>
<rect x="347.35" y="624.8" width="6" height="54.7" fill="#c8102e"/>
<rect x="347.35" y="624.8" width="6" height="0.7" fill="#a60d25"/>
<rect x="355.45" y="624.8" width="6" height="54.7" fill="#c8102e"/>
<rect x="355.45" y="624.8" width="6" height="0.7" fill="#a60d25"/>
<rect x="357.9" y="623.71" width="1.1" height="1.08" fill="#000"/>
<rect x="356.95" y="623.41" width="3" height="1.1" fill="#000"/>
<rect x="363.55" y="624.8" width="6" height="54.7" fill="#c8102e"/>
<rect x="363.55" y="624.8" width="6" height="0.7" fill="#a60d25"/>
<rect x="366" y="621.54" width="1.1" height="3.25" fill="#000"/>
<rect x="365.05" y="621.25" width="3" height="1.1" fill="#000"/>
<rect x="371.65" y="624.8" width="6" height="54.7" fill="#c8102e"/>
<rect x="371.65" y="624.8" width="6" height="0.7" fill="#a60d25"/>
<rect x="374.1" y="624.26" width="1.1" height="0.54" fill="#000"/>
<rect x="373.15" y="623.96" width="3" height="1.1" fill="#000"/>
<rect x="379.75" y="624.8" width="6" height="54.7" fill="#c8102e"/>
<rect x="379.75" y="624.8" width="6" height="0.7" fill="#a60d25"/>
<rect x="382.2" y="622.09" width="1.1" height="2.71" fill="#000"/>
<rect x="381.25" y="621.79" width="3" height="1.1" fill="#000"/>
<rect x="387.85" y="624.8" width="6" height="54.7" fill="#c8102e"/>
<rect x="387.85" y="624.8" width="6" height="0.7" fill="#a60d25"/>
<rect x="390.3" y="622.09" width="1.1" height="2.71" fill="#000"/>
<rect x="389.35" y="621.79" width="3" height="1.1" fill="#000"/>
<rect x="395.95" y="624.8" width="6" height="54.7" fill="#c8102e"/>
<rect x="395.95" y="624.8" width="6" height="0.7" fill="#a60d25"/>
<rect x="398.4" y="624.26" width="1.1" height="0.54" fill="#000"/>
<rect x="397.45" y="623.96" width="3" height="1.1" fill="#000"/>
<rect x="408.5" y="624.8" width="6" height="54.7" fill="#144f85"/>
<rect x="408.5" y="624.8" width="6" height="0.7" fill="#0f3f69"/>
<rect x="416.6" y="626.32" width="6" height="53.18" fill="#144f85"/>
<rect x="416.6" y="626.32" width="6" height="0.7" fill="#0f3f69"/>
<rect x="419.05" y="622.52" width="1.1" height="3.8" fill="#000"/>
<rect x="418.1" y="622.22" width="3" height="1.1" fill="#000"/>
<rect x="424.7" y="624.96" width="6" height="54.54" fill="#144f85"/>
<rect x="424.7" y="624.96" width="6" height="0.7" fill="#0f3f69"/>
<rect x="427.15" y="620.62" width="1.1" height="4.34" fill="#000"/>
<rect x="426.2" y="620.32" width="3" height="1.1" fill="#000"/>
<rect x="432.8" y="619.27" width="6" height="60.23" fill="#144f85"/>
<rect x="432.8" y="619.27" width="6" height="0.7" fill="#0f3f69"/>
<rect x="435.25" y="616.55" width="1.1" height="2.71" fill="#000"/>
<rect x="434.3" y="616.25" width="3" height="1.1" fill="#000"/>
<rect x="440.9" y="622.52" width="6" height="56.98" fill="#144f85"/>
<rect x="440.9" y="622.52" width="6" height="0.7" fill="#0f3f69"/>
<rect x="443.35" y="619.81" width="1.1" height="2.71" fill="#000"/>
<rect x="442.4" y="619.51" width="3" height="1.1" fill="#000"/>
<rect x="449" y="620.35" width="6" height="59.15" fill="#144f85"/>
<rect x="449" y="620.35" width="6" height="0.7" fill="#0f3f69"/>
<rect x="451.45" y="617.1" width="1.1" height="3.25" fill="#000"/>
<rect x="450.5" y="616.8" width="3" height="1.1" fill="#000"/>
<rect x="457.1" y="620.35" width="6" height="59.15" fill="#144f85"/>
<rect x="457.1" y="620.35" width="6" height="0.7" fill="#0f3f69"/>
<rect x="459.55" y="617.1" width="1.1" height="3.25" fill="#000"/>
<rect x="458.6" y="616.8" width="3" height="1.1" fill="#000"/>
<rect x="343.55" y="597.62" width="1.1" height="82.38" fill="#111"/>
<rect x="341.6" y="679" width="124.7" height="1.0" fill="#111"/>
<rect x="341.6" y="678.95" width="2.5" height="1.1" fill="#000"/>
<text x="340.2" y="682.2" font-size="7.9" text-anchor="end" fill="#2a2a2a" font-weight="normal" textLength="9.8" lengthAdjust="spacingAndGlyphs">0.0</text>
<rect x="341.6" y="651.83" width="2.5" height="1.1" fill="#000"/>
<text x="340.2" y="655.08" font-size="7.9" text-anchor="end" fill="#2a2a2a" font-weight="normal" textLength="9.8" lengthAdjust="spacingAndGlyphs">0.5</text>
<rect x="341.6" y="624.7" width="2.5" height="1.1" fill="#000"/>
<text x="340.2" y="627.95" font-size="7.9" text-anchor="end" fill="#2a2a2a" font-weight="normal" textLength="9.8" lengthAdjust="spacingAndGlyphs">1.0</text>
<rect x="341.6" y="597.58" width="2.5" height="1.1" fill="#000"/>
<text x="340.2" y="600.83" font-size="7.9" text-anchor="end" fill="#2a2a2a" font-weight="normal" textLength="9.8" lengthAdjust="spacingAndGlyphs">1.5</text>
<rect x="349.8" y="680" width="1.1" height="2.1" fill="#000"/>
<text x="350.35" y="689.1" font-size="6.8" text-anchor="middle" fill="#222" font-weight="normal" textLength="3.3" lengthAdjust="spacingAndGlyphs" stroke="#222" stroke-width="0.15">0</text>
<rect x="357.9" y="680" width="1.1" height="2.1" fill="#000"/>
<text x="358.45" y="689.1" font-size="6.8" text-anchor="middle" fill="#222" font-weight="normal" textLength="3.3" lengthAdjust="spacingAndGlyphs" stroke="#222" stroke-width="0.15">1</text>
<rect x="366" y="680" width="1.1" height="2.1" fill="#000"/>
<text x="366.55" y="689.1" font-size="6.8" text-anchor="middle" fill="#222" font-weight="normal" textLength="3.3" lengthAdjust="spacingAndGlyphs" stroke="#222" stroke-width="0.15">2</text>
<rect x="374.1" y="680" width="1.1" height="2.1" fill="#000"/>
<text x="374.65" y="689.1" font-size="6.8" text-anchor="middle" fill="#222" font-weight="normal" textLength="3.3" lengthAdjust="spacingAndGlyphs" stroke="#222" stroke-width="0.15">3</text>
<rect x="382.2" y="680" width="1.1" height="2.1" fill="#000"/>
<text x="382.75" y="689.1" font-size="6.8" text-anchor="middle" fill="#222" font-weight="normal" textLength="3.3" lengthAdjust="spacingAndGlyphs" stroke="#222" stroke-width="0.15">4</text>
<rect x="390.3" y="680" width="1.1" height="2.1" fill="#000"/>
<text x="390.85" y="689.1" font-size="6.8" text-anchor="middle" fill="#222" font-weight="normal" textLength="3.3" lengthAdjust="spacingAndGlyphs" stroke="#222" stroke-width="0.15">5</text>
<rect x="398.4" y="680" width="1.1" height="2.1" fill="#000"/>
<text x="398.95" y="689.1" font-size="6.8" text-anchor="middle" fill="#222" font-weight="normal" textLength="3.3" lengthAdjust="spacingAndGlyphs" stroke="#222" stroke-width="0.15">6</text>
<rect x="410.95" y="680" width="1.1" height="2.1" fill="#000"/>
<text x="411.5" y="689.1" font-size="6.8" text-anchor="middle" fill="#222" font-weight="normal" textLength="3.3" lengthAdjust="spacingAndGlyphs" stroke="#222" stroke-width="0.15">0</text>
<rect x="419.05" y="680" width="1.1" height="2.1" fill="#000"/>
<text x="419.6" y="689.1" font-size="6.8" text-anchor="middle" fill="#222" font-weight="normal" textLength="3.3" lengthAdjust="spacingAndGlyphs" stroke="#222" stroke-width="0.15">1</text>
<rect x="427.15" y="680" width="1.1" height="2.1" fill="#000"/>
<text x="427.7" y="689.1" font-size="6.8" text-anchor="middle" fill="#222" font-weight="normal" textLength="3.3" lengthAdjust="spacingAndGlyphs" stroke="#222" stroke-width="0.15">2</text>
<rect x="435.25" y="680" width="1.1" height="2.1" fill="#000"/>
<text x="435.8" y="689.1" font-size="6.8" text-anchor="middle" fill="#222" font-weight="normal" textLength="3.3" lengthAdjust="spacingAndGlyphs" stroke="#222" stroke-width="0.15">3</text>
<rect x="443.35" y="680" width="1.1" height="2.1" fill="#000"/>
<text x="443.9" y="689.1" font-size="6.8" text-anchor="middle" fill="#222" font-weight="normal" textLength="3.3" lengthAdjust="spacingAndGlyphs" stroke="#222" stroke-width="0.15">4</text>
<rect x="451.45" y="680" width="1.1" height="2.1" fill="#000"/>
<text x="452" y="689.1" font-size="6.8" text-anchor="middle" fill="#222" font-weight="normal" textLength="3.3" lengthAdjust="spacingAndGlyphs" stroke="#222" stroke-width="0.15">5</text>
<rect x="459.55" y="680" width="1.1" height="2.1" fill="#000"/>
<text x="460.1" y="689.1" font-size="6.8" text-anchor="middle" fill="#222" font-weight="normal" textLength="3.3" lengthAdjust="spacingAndGlyphs" stroke="#222" stroke-width="0.15">6</text>
<text x="389.1" y="701.9" font-size="10.5" text-anchor="start" fill="#222" font-weight="normal" textLength="27.3" lengthAdjust="spacingAndGlyphs">Time [d]</text>
<text transform="translate(328.4 671.3) rotate(-90)" font-size="8.3" fill="#222" stroke="#222" stroke-width="0.12" textLength="72.5" lengthAdjust="spacingAndGlyphs">Normalized cell count</text>
<text x="395" y="597.75" font-size="10" text-anchor="start" fill="#2a2a2a" font-weight="normal" textLength="23.5" lengthAdjust="spacingAndGlyphs">U937</text>
<rect x="466.7" y="33.33" width="10.4" height="5.8" fill="#c8102e"/>
<rect x="466.7" y="45.43" width="10.4" height="5.8" fill="#144f85"/>
<text x="480.4" y="39.83" font-size="8.8" text-anchor="start" fill="#222" font-weight="normal" textLength="25.6" lengthAdjust="spacingAndGlyphs">Solvent</text>
<text x="480.4" y="51.93" font-size="8.8" text-anchor="start" fill="#222" font-weight="normal" textLength="16.8" lengthAdjust="spacingAndGlyphs">DMF</text>
<rect x="466.7" y="311.82" width="10.4" height="5.8" fill="#c8102e"/>
<rect x="466.7" y="323.93" width="10.4" height="5.8" fill="#144f85"/>
<text x="480.4" y="318.32" font-size="8.8" text-anchor="start" fill="#222" font-weight="normal" textLength="25.6" lengthAdjust="spacingAndGlyphs">Solvent</text>
<text x="480.4" y="330.43" font-size="8.8" text-anchor="start" fill="#222" font-weight="normal" textLength="16.8" lengthAdjust="spacingAndGlyphs">DMF</text>
<rect x="466.7" y="598.42" width="10.4" height="5.8" fill="#c8102e"/>
<rect x="466.7" y="610.52" width="10.4" height="5.8" fill="#144f85"/>
<text x="480.4" y="604.92" font-size="8.8" text-anchor="start" fill="#222" font-weight="normal" textLength="25.6" lengthAdjust="spacingAndGlyphs">Solvent</text>
<text x="480.4" y="617.02" font-size="8.8" text-anchor="start" fill="#222" font-weight="normal" textLength="16.8" lengthAdjust="spacingAndGlyphs">DMF</text>
<text x="10.2" y="13.8" font-size="12" text-anchor="start" fill="#000" font-weight="normal" textLength="8.6" lengthAdjust="spacingAndGlyphs" stroke="#000" stroke-width="0.2">A</text>
<text x="10.2" y="293" font-size="12" text-anchor="start" fill="#000" font-weight="normal" textLength="7.6" lengthAdjust="spacingAndGlyphs" stroke="#000" stroke-width="0.2">B</text>
<text x="10" y="575.8" font-size="12" text-anchor="start" fill="#000" font-weight="normal" textLength="8.4" lengthAdjust="spacingAndGlyphs" stroke="#000" stroke-width="0.2">C</text>
<rect x="0.75" y="0.75" width="518.5" height="710.5" fill="none" stroke="#000" stroke-width="1.5"/>
</svg>
</body></html>
